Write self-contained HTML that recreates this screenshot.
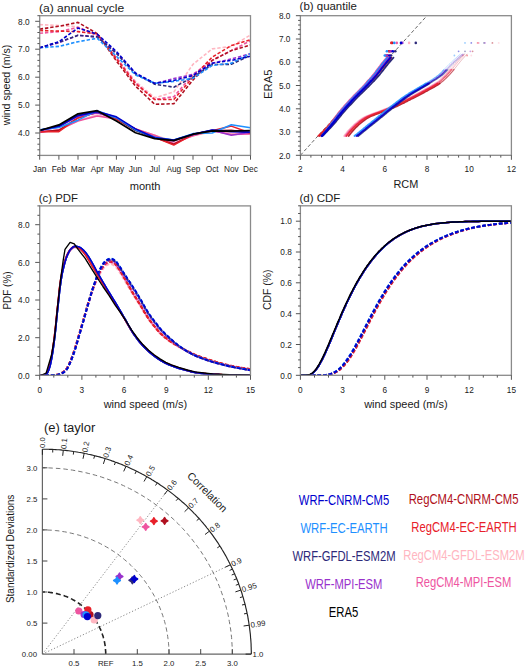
<!DOCTYPE html>
<html><head><meta charset="utf-8"><style>
html,body{margin:0;padding:0;background:#fff;}
svg{display:block;font-family:"Liberation Sans", sans-serif;}
</style></head><body>
<svg width="525" height="667" viewBox="0 0 525 667">
<defs>
<clipPath id="clipA"><rect x="39.7" y="15.7" width="210.8" height="139.7"/></clipPath>
<clipPath id="clipB"><rect x="300.4" y="15.7" width="211" height="139.6"/></clipPath>
<clipPath id="clipC"><rect x="39.7" y="205.9" width="210.8" height="169.4"/></clipPath>
<clipPath id="clipD"><rect x="300.4" y="205.8" width="211" height="169.5"/></clipPath>
</defs>
<rect width="525" height="667" fill="#fff"/>
<g clip-path="url(#clipA)">
<polyline points="39.7,24.6 58.9,25.5 78,26.9 97.2,35.3 116.4,57.6 135.5,81.4 154.7,97.8 173.8,92 193,64.3 212.2,48.9 231.3,46.4 250.5,35" fill="none" stroke="#ffb6c1" stroke-width="1.6" stroke-linejoin="round" stroke-dasharray="3.4 1.9" />
<polyline points="39.7,33.3 58.9,31.6 78,27.4 97.2,35.3 116.4,57.6 135.5,82.8 154.7,99.5 173.8,96.7 193,74.4 212.2,60.4 231.3,50.6 250.5,40.8" fill="none" stroke="#ee55a0" stroke-width="1.6" stroke-linejoin="round" stroke-dasharray="3.4 1.9" />
<polyline points="39.7,29.1 58.9,26.3 78,22.4 97.2,33.6 116.4,61 135.5,86.1 154.7,104.3 173.8,103.7 193,80 212.2,60.4 231.3,50.6 250.5,45" fill="none" stroke="#b01020" stroke-width="1.6" stroke-linejoin="round" stroke-dasharray="3.4 1.9" />
<polyline points="39.7,30.5 58.9,31.1 78,31.6 97.2,33.9 116.4,59 135.5,83.6 154.7,99.5 173.8,99.5 193,77.2 212.2,57.1 231.3,45.6 250.5,39.7" fill="none" stroke="#e8202a" stroke-width="1.6" stroke-linejoin="round" stroke-dasharray="3.4 1.9" />
<polyline points="39.7,47.8 58.9,42.8 78,35.3 97.2,36.9 116.4,52.6 135.5,73.8 154.7,83.6 173.8,78.6 193,74.4 212.2,63.2 231.3,59 250.5,53.7" fill="none" stroke="#9932cc" stroke-width="1.6" stroke-linejoin="round" stroke-dasharray="3.4 1.9" />
<polyline points="39.7,47.8 58.9,42.2 78,35.3 97.2,36.9 116.4,53.4 135.5,73.8 154.7,84.2 173.8,87.2 193,77.2 212.2,64.6 231.3,64.3 250.5,55.4" fill="none" stroke="#2e2a7a" stroke-width="1.6" stroke-linejoin="round" stroke-dasharray="3.4 1.9" />
<polyline points="39.7,47.8 58.9,46.4 78,41.7 97.2,38.3 116.4,56.2 135.5,74.9 154.7,83.3 173.8,81.4 193,78.3 212.2,65.4 231.3,63.2 250.5,53.4" fill="none" stroke="#1e90ff" stroke-width="1.6" stroke-linejoin="round" stroke-dasharray="3.4 1.9" />
<polyline points="39.7,47.8 58.9,41.7 78,28 97.2,34.1 116.4,51.5 135.5,73 154.7,83.3 173.8,80.5 193,75.5 212.2,63.2 231.3,60.4 250.5,56.2" fill="none" stroke="#0000cd" stroke-width="1.6" stroke-linejoin="round" stroke-dasharray="3.4 1.9" />
<polyline points="39.7,131.7 58.9,130.3 78,120.5 97.2,114.9 116.4,119.1 135.5,128.9 154.7,135.3 173.8,141.4 193,135.8 212.2,131.7 231.3,133 250.5,133.6" fill="none" stroke="#ffb6c1" stroke-width="1.5" stroke-linejoin="round" />
<polyline points="39.7,132.5 58.9,129.7 78,121 97.2,116 116.4,119.1 135.5,128.9 154.7,135.3 173.8,143.4 193,135.8 212.2,130.8 231.3,134.4 250.5,133.9" fill="none" stroke="#ee55a0" stroke-width="1.5" stroke-linejoin="round" />
<polyline points="39.7,131.7 58.9,130.3 78,117.7 97.2,112.4 116.4,119.1 135.5,130.3 154.7,137.2 173.8,144.2 193,134.4 212.2,130.8 231.3,130.3 250.5,133" fill="none" stroke="#b01020" stroke-width="1.5" stroke-linejoin="round" />
<polyline points="39.7,131.7 58.9,131.7 78,118 97.2,112.4 116.4,119.1 135.5,128.9 154.7,137.2 173.8,145.1 193,134.4 212.2,130.8 231.3,126.1 250.5,133" fill="none" stroke="#e8202a" stroke-width="1.5" stroke-linejoin="round" />
<polyline points="39.7,130.8 58.9,126.9 78,116.3 97.2,112.9 116.4,117.7 135.5,129.7 154.7,137.2 173.8,140.9 193,134.2 212.2,130.3 231.3,135.3 250.5,132.2" fill="none" stroke="#9932cc" stroke-width="1.5" stroke-linejoin="round" />
<polyline points="39.7,130.3 58.9,126.1 78,114.9 97.2,112.1 116.4,117.7 135.5,130.3 154.7,138.1 173.8,140.3 193,134.4 212.2,130.3 231.3,131.1 250.5,131.7" fill="none" stroke="#2e2a7a" stroke-width="1.5" stroke-linejoin="round" />
<polyline points="39.7,129.7 58.9,127.5 78,120.2 97.2,110.7 116.4,117.7 135.5,129.7 154.7,137.2 173.8,140 193,133.6 212.2,133 231.3,124.7 250.5,127.7" fill="none" stroke="#1e90ff" stroke-width="1.5" stroke-linejoin="round" />
<polyline points="39.7,130.3 58.9,126.3 78,115.7 97.2,111.5 116.4,116.8 135.5,128.9 154.7,137.8 173.8,140 193,134.2 212.2,130 231.3,131.7 250.5,132.2" fill="none" stroke="#0000cd" stroke-width="1.5" stroke-linejoin="round" />
<polyline points="39.7,130.5 58.9,124.9 78,113.8 97.2,110.7 116.4,121 135.5,132.8 154.7,138.6 173.8,140.6 193,134.2 212.2,130.8 231.3,131.1 250.5,130.5" fill="none" stroke="#000000" stroke-width="1.7" stroke-linejoin="round" />
</g>
<rect x="39.7" y="15.7" width="210.8" height="139.7" fill="none" stroke="#8a8a8a" stroke-width="1.3"/>
<line x1="37.4" y1="155.4" x2="39.7" y2="155.4" stroke="#555" stroke-width="1" />
<line x1="37.4" y1="149.8" x2="39.7" y2="149.8" stroke="#555" stroke-width="1" />
<line x1="37.4" y1="144.2" x2="39.7" y2="144.2" stroke="#555" stroke-width="1" />
<line x1="37.4" y1="138.6" x2="39.7" y2="138.6" stroke="#555" stroke-width="1" />
<line x1="35.2" y1="133" x2="39.7" y2="133" stroke="#555" stroke-width="1" />
<text transform="translate(29.6 136.2) scale(0.92 1)" font-size="9.0" text-anchor="end" fill="#1a1a1a" >4.0</text>
<line x1="37.4" y1="127.5" x2="39.7" y2="127.5" stroke="#555" stroke-width="1" />
<line x1="37.4" y1="121.9" x2="39.7" y2="121.9" stroke="#555" stroke-width="1" />
<line x1="37.4" y1="116.3" x2="39.7" y2="116.3" stroke="#555" stroke-width="1" />
<line x1="37.4" y1="110.7" x2="39.7" y2="110.7" stroke="#555" stroke-width="1" />
<line x1="35.2" y1="105.1" x2="39.7" y2="105.1" stroke="#555" stroke-width="1" />
<text transform="translate(29.6 108.3) scale(0.92 1)" font-size="9.0" text-anchor="end" fill="#1a1a1a" >5.0</text>
<line x1="37.4" y1="99.5" x2="39.7" y2="99.5" stroke="#555" stroke-width="1" />
<line x1="37.4" y1="93.9" x2="39.7" y2="93.9" stroke="#555" stroke-width="1" />
<line x1="37.4" y1="88.3" x2="39.7" y2="88.3" stroke="#555" stroke-width="1" />
<line x1="37.4" y1="82.8" x2="39.7" y2="82.8" stroke="#555" stroke-width="1" />
<line x1="35.2" y1="77.2" x2="39.7" y2="77.2" stroke="#555" stroke-width="1" />
<text transform="translate(29.6 80.4) scale(0.92 1)" font-size="9.0" text-anchor="end" fill="#1a1a1a" >6.0</text>
<line x1="37.4" y1="71.6" x2="39.7" y2="71.6" stroke="#555" stroke-width="1" />
<line x1="37.4" y1="66" x2="39.7" y2="66" stroke="#555" stroke-width="1" />
<line x1="37.4" y1="60.4" x2="39.7" y2="60.4" stroke="#555" stroke-width="1" />
<line x1="37.4" y1="54.8" x2="39.7" y2="54.8" stroke="#555" stroke-width="1" />
<line x1="35.2" y1="49.2" x2="39.7" y2="49.2" stroke="#555" stroke-width="1" />
<text transform="translate(29.6 52.4) scale(0.92 1)" font-size="9.0" text-anchor="end" fill="#1a1a1a" >7.0</text>
<line x1="37.4" y1="43.6" x2="39.7" y2="43.6" stroke="#555" stroke-width="1" />
<line x1="37.4" y1="38.1" x2="39.7" y2="38.1" stroke="#555" stroke-width="1" />
<line x1="37.4" y1="32.5" x2="39.7" y2="32.5" stroke="#555" stroke-width="1" />
<line x1="37.4" y1="26.9" x2="39.7" y2="26.9" stroke="#555" stroke-width="1" />
<line x1="35.2" y1="21.3" x2="39.7" y2="21.3" stroke="#555" stroke-width="1" />
<text transform="translate(29.6 24.5) scale(0.92 1)" font-size="9.0" text-anchor="end" fill="#1a1a1a" >8.0</text>
<line x1="37.4" y1="15.7" x2="39.7" y2="15.7" stroke="#555" stroke-width="1" />
<line x1="39.7" y1="155.4" x2="39.7" y2="159.7" stroke="#555" stroke-width="1" />
<text x="39.7" y="171.6" font-size="8.3" text-anchor="middle" fill="#1a1a1a" >Jan</text>
<line x1="58.9" y1="155.4" x2="58.9" y2="159.7" stroke="#555" stroke-width="1" />
<text x="58.9" y="171.6" font-size="8.3" text-anchor="middle" fill="#1a1a1a" >Feb</text>
<line x1="78" y1="155.4" x2="78" y2="159.7" stroke="#555" stroke-width="1" />
<text x="78" y="171.6" font-size="8.3" text-anchor="middle" fill="#1a1a1a" >Mar</text>
<line x1="97.2" y1="155.4" x2="97.2" y2="159.7" stroke="#555" stroke-width="1" />
<text x="97.2" y="171.6" font-size="8.3" text-anchor="middle" fill="#1a1a1a" >Apr</text>
<line x1="116.4" y1="155.4" x2="116.4" y2="159.7" stroke="#555" stroke-width="1" />
<text x="116.4" y="171.6" font-size="8.3" text-anchor="middle" fill="#1a1a1a" >May</text>
<line x1="135.5" y1="155.4" x2="135.5" y2="159.7" stroke="#555" stroke-width="1" />
<text x="135.5" y="171.6" font-size="8.3" text-anchor="middle" fill="#1a1a1a" >Jun</text>
<line x1="154.7" y1="155.4" x2="154.7" y2="159.7" stroke="#555" stroke-width="1" />
<text x="154.7" y="171.6" font-size="8.3" text-anchor="middle" fill="#1a1a1a" >Jul</text>
<line x1="173.8" y1="155.4" x2="173.8" y2="159.7" stroke="#555" stroke-width="1" />
<text x="173.8" y="171.6" font-size="8.3" text-anchor="middle" fill="#1a1a1a" >Aug</text>
<line x1="193" y1="155.4" x2="193" y2="159.7" stroke="#555" stroke-width="1" />
<text x="193" y="171.6" font-size="8.3" text-anchor="middle" fill="#1a1a1a" >Sep</text>
<line x1="212.2" y1="155.4" x2="212.2" y2="159.7" stroke="#555" stroke-width="1" />
<text x="212.2" y="171.6" font-size="8.3" text-anchor="middle" fill="#1a1a1a" >Oct</text>
<line x1="231.3" y1="155.4" x2="231.3" y2="159.7" stroke="#555" stroke-width="1" />
<text x="231.3" y="171.6" font-size="8.3" text-anchor="middle" fill="#1a1a1a" >Nov</text>
<line x1="250.5" y1="155.4" x2="250.5" y2="159.7" stroke="#555" stroke-width="1" />
<text x="250.5" y="171.6" font-size="8.3" text-anchor="middle" fill="#1a1a1a" >Dec</text>
<text x="38.9" y="12.4" font-size="11.8" text-anchor="start" fill="#1a1a1a" textLength="85.3" lengthAdjust="spacingAndGlyphs" >(a) annual cycle</text>
<text x="145.1" y="190" font-size="11.2" text-anchor="middle" fill="#1a1a1a" textLength="30.8" lengthAdjust="spacingAndGlyphs" >month</text>
<text x="9.7" y="85" font-size="11.2" text-anchor="middle" fill="#1a1a1a" transform="rotate(-90 9.7 85)" textLength="80.5" lengthAdjust="spacingAndGlyphs" >wind speed (m/s)</text>
<g clip-path="url(#clipB)">
<line x1="300.4" y1="155.3" x2="427" y2="15.7" stroke="#666" stroke-width="1" stroke-dasharray="3.5 2.2"/>
<polyline points="319.8,136 320.7,135 321.6,134 322.4,133 323.3,132 324.1,131 325,130 325.9,129 326.7,128 327.6,127 328.4,126 329.2,125 330.1,124 330.9,123 331.7,121.9 332.6,120.9 333.4,119.8 334.2,118.8 335,117.8 335.8,116.7 336.6,115.7 337.5,114.6 338.3,113.6 339.1,112.6 340,111.6 340.8,110.6 341.7,109.6 342.6,108.6 343.4,107.6 344.3,106.6 345.2,105.6 346,104.7 346.9,103.7 347.8,102.7 348.7,101.7 349.6,100.8 350.5,99.8 351.4,98.9 352.3,97.9 353.2,97 354.1,96 355,95.1 356,94.2 356.9,93.3 357.8,92.4 358.8,91.4 359.7,90.5 360.6,89.6 361.5,88.7 362.5,87.7 363.4,86.8 364.3,85.9 365.2,84.9 366.1,83.9 367,83 367.8,82 368.7,81.1" fill="none" stroke="#ffb6c1" stroke-width="1.6" stroke-linejoin="round" stroke-linecap="round"/>
<polyline points="368.7,81.1 369.6,80.1 370.5,79.1 371.4,78.1 372.2,77.1 373.1,76.1 373.9,75.1 374.8,74.1 375.6,73.1 376.4,72 377.2,71 378,69.9 378.8,68.9 379.6,67.8 380.4,66.8 381.3,65.7 382.1,64.7 382.9,63.7 383.7,62.6 384.6,61.6 385.4,60.6 386.3,59.6 387.1,58.6 388,57.6" fill="none" stroke="#ffb6c1" stroke-width="1.8" stroke-linejoin="round" stroke-linecap="round"/>
<polyline points="320.2,136 321.1,135 321.9,134 322.7,132.9 323.5,131.9 324.3,130.9 325.1,129.9 325.9,128.8 326.8,127.8 327.6,126.8 328.4,125.8 329.2,124.7 330,123.7 330.8,122.7 331.6,121.6 332.4,120.6 333.2,119.6 334,118.5 334.8,117.5 335.6,116.4 336.4,115.4 337.2,114.4 338,113.3 338.8,112.3 339.6,111.3 340.5,110.3 341.3,109.3 342.1,108.3 343,107.4 343.8,106.4 344.7,105.4 345.6,104.4 346.4,103.5 347.3,102.5 348.2,101.5 349,100.6 349.9,99.6 350.8,98.7 351.7,97.7 352.6,96.8 353.5,95.8 354.4,94.9 355.3,94 356.2,93.1 357.1,92.2 358,91.3 359,90.4 359.9,89.4 360.8,88.5 361.7,87.6 362.6,86.7 363.4,85.7 364.3,84.8 365.2,83.8 366.1,82.8 367,81.9 367.8,80.9" fill="none" stroke="#ee55a0" stroke-width="1.6" stroke-linejoin="round" stroke-linecap="round"/>
<polyline points="367,81.9 367.8,80.9 368.7,80 369.6,79 370.4,78 371.3,77 372.1,76 372.9,75 373.8,74 374.6,73 375.4,72 376.2,70.9 377,69.9 377.7,68.8 378.5,67.8 379.3,66.7 380.1,65.7 380.9,64.6 381.7,63.6 382.5,62.6 383.4,61.6 384.2,60.6 385,59.6 385.9,58.6 386.7,57.6" fill="none" stroke="#ee55a0" stroke-width="1.8" stroke-linejoin="round" stroke-linecap="round"/>
<polyline points="319.4,136 320.4,135.1 321.3,134.2 322.3,133.2 323.3,132.3 324.2,131.3 325.2,130.4 326.1,129.4 327.1,128.5 328,127.5 328.9,126.5 329.9,125.6 330.8,124.6 331.7,123.6 332.6,122.6 333.4,121.5 334.3,120.5 335.2,119.5 336,118.4 336.9,117.4 337.8,116.3 338.6,115.3 339.5,114.2 340.4,113.2 341.3,112.2 342.2,111.2 343.1,110.2 344,109.2 344.9,108.2 345.8,107.2 346.7,106.2 347.6,105.2 348.5,104.2 349.5,103.2 350.4,102.3 351.3,101.3 352.3,100.3 353.2,99.4 354.1,98.4 355.1,97.4 356,96.5 357,95.6 357.9,94.6 358.9,93.7 359.9,92.8 360.9,91.8 361.8,90.9 362.8,90 363.8,89.1 364.7,88.1 365.7,87.2 366.6,86.2 367.5,85.3 368.5,84.3 369.4,83.3 370.3,82.3 371.3,81.4" fill="none" stroke="#b01020" stroke-width="1.6" stroke-linejoin="round" stroke-linecap="round"/>
<polyline points="371.3,81.4 372.2,80.4 373.1,79.4 374,78.4 374.9,77.4 375.8,76.4 376.7,75.4 377.6,74.3 378.4,73.3 379.3,72.2 380.1,71.2 381,70.1 381.8,69 382.7,68 383.5,66.9 384.3,65.8 385.2,64.8 386.1,63.8 386.9,62.7 387.8,61.7 388.7,60.7 389.6,59.6 390.5,58.6 391.3,57.6" fill="none" stroke="#b01020" stroke-width="1.8" stroke-linejoin="round" stroke-linecap="round"/>
<polyline points="318.1,136 319.1,135.1 320.1,134.2 321,133.2 322,132.3 323,131.3 323.9,130.4 324.9,129.4 325.8,128.5 326.7,127.5 327.7,126.5 328.6,125.6 329.5,124.6 330.4,123.6 331.3,122.6 332.2,121.5 333.1,120.5 333.9,119.5 334.8,118.4 335.6,117.4 336.5,116.3 337.4,115.3 338.2,114.2 339.1,113.2 340,112.2 340.9,111.2 341.8,110.2 342.7,109.2 343.6,108.2 344.5,107.2 345.4,106.2 346.4,105.2 347.3,104.2 348.2,103.2 349.1,102.3 350.1,101.3 351,100.3 351.9,99.4 352.9,98.4 353.8,97.4 354.8,96.5 355.7,95.6 356.7,94.6 357.6,93.7 358.6,92.8 359.6,91.8 360.6,90.9 361.5,90 362.5,89.1 363.4,88.1 364.4,87.2 365.3,86.2 366.3,85.3 367.2,84.3 368.1,83.3 369.1,82.3 370,81.4" fill="none" stroke="#e8202a" stroke-width="1.6" stroke-linejoin="round" stroke-linecap="round"/>
<polyline points="370,81.4 370.9,80.4 371.8,79.4 372.7,78.4 373.7,77.4 374.5,76.4 375.4,75.4 376.3,74.3 377.2,73.3 378,72.2 378.9,71.2 379.7,70.1 380.6,69 381.4,68 382.2,66.9 383.1,65.8 383.9,64.8 384.8,63.8 385.7,62.7 386.5,61.7 387.4,60.7 388.3,59.6 389.2,58.6 390.1,57.6" fill="none" stroke="#e8202a" stroke-width="1.8" stroke-linejoin="round" stroke-linecap="round"/>
<polyline points="321.5,136 322.3,135 323.1,133.9 323.9,132.9 324.7,131.9 325.5,130.9 326.3,129.8 327.1,128.8 327.9,127.8 328.7,126.7 329.5,125.7 330.3,124.7 331.1,123.6 331.9,122.6 332.7,121.6 333.5,120.5 334.3,119.5 335.1,118.4 335.9,117.4 336.6,116.4 337.4,115.3 338.2,114.3 339,113.3 339.9,112.3 340.7,111.3 341.5,110.3 342.4,109.3 343.2,108.3 344,107.3 344.9,106.3 345.7,105.3 346.6,104.4 347.5,103.4 348.3,102.4 349.2,101.5 350.1,100.5 350.9,99.6 351.8,98.6 352.7,97.7 353.6,96.7 354.5,95.8 355.4,94.9 356.3,94 357.2,93 358.1,92.1 359,91.2 359.9,90.3 360.8,89.4 361.7,88.5 362.6,87.5 363.5,86.6 364.4,85.7 365.3,84.7 366.2,83.8 367,82.8 367.9,81.9 368.8,80.9" fill="none" stroke="#1e90ff" stroke-width="1.6" stroke-linejoin="round" stroke-linecap="round"/>
<polyline points="367.9,81.9 368.8,80.9 369.6,79.9 370.5,79 371.3,78 372.2,77 373,76 373.9,75 374.7,74 375.5,73 376.3,71.9 377.1,70.9 377.8,69.8 378.6,68.8 379.4,67.7 380.2,66.7 381,65.7 381.8,64.6 382.6,63.6 383.4,62.6 384.2,61.6 385.1,60.6 385.9,59.6 386.7,58.6 387.5,57.6" fill="none" stroke="#1e90ff" stroke-width="1.8" stroke-linejoin="round" stroke-linecap="round"/>
<polyline points="321.7,136 322.6,135 323.4,134 324.3,133 325.1,132 325.9,131 326.8,130 327.6,129 328.5,128 329.3,126.9 330.1,125.9 331,124.9 331.8,123.9 332.6,122.9 333.4,121.8 334.2,120.8 335,119.7 335.9,118.7 336.7,117.6 337.5,116.6 338.3,115.6 339.1,114.5 339.9,113.5 340.7,112.5 341.6,111.5 342.4,110.5 343.3,109.5 344.1,108.5 345,107.5 345.9,106.5 346.7,105.5 347.6,104.6 348.5,103.6 349.4,102.6 350.2,101.7 351.1,100.7 352,99.7 352.9,98.8 353.8,97.8 354.7,96.9 355.6,96 356.5,95 357.4,94.1 358.4,93.2 359.3,92.3 360.2,91.4 361.2,90.5 362.1,89.5 363,88.6 363.9,87.7 364.8,86.7 365.7,85.8 366.6,84.8 367.5,83.9 368.4,82.9 369.3,82 370.1,81" fill="none" stroke="#9932cc" stroke-width="1.6" stroke-linejoin="round" stroke-linecap="round"/>
<polyline points="369.3,82 370.1,81 371,80 371.9,79.1 372.8,78.1 373.6,77.1 374.5,76.1 375.3,75.1 376.1,74.1 377,73 377.8,72 378.6,71 379.4,69.9 380.2,68.9 381,67.8 381.8,66.8 382.6,65.7 383.4,64.7 384.2,63.6 385,62.6 385.9,61.6 386.7,60.6 387.5,59.6 388.4,58.6 389.2,57.6" fill="none" stroke="#9932cc" stroke-width="1.8" stroke-linejoin="round" stroke-linecap="round"/>
<polyline points="322.6,136 323.5,135.1 324.5,134.1 325.4,133.2 326.3,132.2 327.3,131.3 328.2,130.3 329.1,129.3 330,128.4 330.9,127.4 331.8,126.4 332.7,125.4 333.6,124.4 334.5,123.4 335.4,122.4 336.3,121.4 337.1,120.3 338,119.3 338.8,118.2 339.7,117.2 340.5,116.1 341.4,115.1 342.2,114.1 343.1,113 344,112 344.9,111 345.7,110 346.6,109 347.5,108 348.4,107 349.3,106 350.2,105.1 351.2,104.1 352.1,103.1 353,102.1 353.9,101.2 354.8,100.2 355.7,99.2 356.7,98.3 357.6,97.3 358.5,96.4 359.5,95.4 360.4,94.5 361.4,93.6 362.4,92.7 363.3,91.7 364.3,90.8 365.2,89.9 366.2,89 367.1,88 368.1,87.1 369,86.1 369.9,85.2 370.9,84.2 371.8,83.2 372.7,82.3 373.6,81.3" fill="none" stroke="#2e2a7a" stroke-width="1.6" stroke-linejoin="round" stroke-linecap="round"/>
<polyline points="373.6,81.3 374.5,80.3 375.4,79.3 376.3,78.3 377.2,77.3 378.1,76.3 379,75.3 379.9,74.3 380.7,73.2 381.5,72.2 382.4,71.1 383.2,70.1 384,69 384.9,67.9 385.7,66.9 386.5,65.8 387.4,64.8 388.2,63.7 389.1,62.7 390,61.7 390.8,60.6 391.7,59.6 392.6,58.6 393.5,57.6" fill="none" stroke="#2e2a7a" stroke-width="1.8" stroke-linejoin="round" stroke-linecap="round"/>
<polyline points="321.9,136 322.8,135 323.7,134 324.6,133 325.4,132.1 326.3,131.1 327.2,130.1 328,129.1 328.9,128.1 329.8,127.1 330.6,126.1 331.5,125.1 332.3,124 333.2,123 334,122 334.8,121 335.6,119.9 336.5,118.9 337.3,117.8 338.1,116.8 338.9,115.7 339.8,114.7 340.6,113.7 341.4,112.7 342.3,111.7 343.1,110.7 344,109.7 344.9,108.7 345.7,107.7 346.6,106.7 347.5,105.7 348.4,104.7 349.3,103.7 350.2,102.8 351.1,101.8 351.9,100.8 352.8,99.9 353.7,98.9 354.6,98 355.6,97 356.5,96.1 357.4,95.2 358.3,94.2 359.3,93.3 360.2,92.4 361.1,91.5 362.1,90.6 363,89.6 363.9,88.7 364.9,87.8 365.8,86.8 366.7,85.9 367.6,84.9 368.5,84 369.4,83 370.3,82.1 371.2,81.1" fill="none" stroke="#0000cd" stroke-width="2.3" stroke-linejoin="round" stroke-linecap="round"/>
<polyline points="371.2,81.1 372.1,80.1 372.9,79.1 373.8,78.1 374.7,77.2 375.6,76.2 376.4,75.2 377.3,74.1 378.1,73.1 378.9,72.1 379.7,71 380.5,70 381.3,68.9 382.1,67.8 382.9,66.8 383.8,65.7 384.6,64.7 385.4,63.7 386.3,62.6 387.1,61.6 387.9,60.6 388.8,59.6 389.6,58.6 390.5,57.6" fill="none" stroke="#0000cd" stroke-width="1.8" stroke-linejoin="round" stroke-linecap="round"/>
<circle cx="409.1" cy="42.9" r="1.3" fill="#ffb6c1"/>
<circle cx="394.3" cy="51.3" r="1.3" fill="#ffb6c1"/>
<circle cx="390.7" cy="55.5" r="1.3" fill="#ffb6c1"/>
<circle cx="396.8" cy="42.9" r="1.3" fill="#ee55a0"/>
<circle cx="391.1" cy="51.3" r="1.3" fill="#ee55a0"/>
<circle cx="388" cy="55.5" r="1.3" fill="#ee55a0"/>
<circle cx="392.2" cy="42.9" r="1.3" fill="#b01020"/>
<circle cx="389" cy="51.3" r="1.3" fill="#b01020"/>
<circle cx="387.3" cy="55.5" r="1.3" fill="#b01020"/>
<circle cx="391.3" cy="42.9" r="1.3" fill="#e8202a"/>
<circle cx="389.4" cy="51.3" r="1.3" fill="#e8202a"/>
<circle cx="385.9" cy="55.5" r="1.3" fill="#e8202a"/>
<circle cx="402.3" cy="42.9" r="1.3" fill="#9932cc"/>
<circle cx="390.7" cy="51.3" r="1.3" fill="#9932cc"/>
<circle cx="386.9" cy="55.5" r="1.3" fill="#9932cc"/>
<circle cx="415.8" cy="42.9" r="1.3" fill="#2e2a7a"/>
<circle cx="395.3" cy="51.3" r="1.3" fill="#2e2a7a"/>
<circle cx="391.1" cy="55.5" r="1.3" fill="#2e2a7a"/>
<circle cx="394.3" cy="42.9" r="1.3" fill="#1e90ff"/>
<circle cx="386.9" cy="51.3" r="1.3" fill="#1e90ff"/>
<circle cx="384.8" cy="55.5" r="1.3" fill="#1e90ff"/>
<circle cx="401" cy="42.9" r="1.3" fill="#0000cd"/>
<circle cx="392.8" cy="51.3" r="1.3" fill="#0000cd"/>
<circle cx="389.4" cy="55.5" r="1.3" fill="#0000cd"/>
<polyline points="344.1,136 345.1,134.6 346.2,133.3 347.2,131.9 348.3,130.6 349.5,129.4 350.6,128.2 351.8,127 353,125.9 354.2,124.7 355.4,123.6 356.7,122.6 358,121.5 359.3,120.5 360.7,119.5 362,118.6 363.4,117.8 364.8,117 366.3,116.3 367.7,115.7 369.2,115.1 370.8,114.5 372.3,113.9 373.8,113.4 375.3,112.8 376.9,112.2 378.4,111.7 379.9,111.1 381.4,110.5 382.9,110 384.4,109.4 385.9,108.8 387.4,108.2 388.9,107.6 390.4,107 391.9,106.4 393.4,105.7 394.9,105 396.3,104.3 397.8,103.6 399.2,102.9 400.7,102.1 402.1,101.4 403.6,100.6 405,99.9 406.5,99.1 407.9,98.4 409.4,97.7 410.8,96.9 412.3,96.2 413.7,95.4 415.2,94.7 416.6,94 418,93.2 419.5,92.4 420.9,91.6 422.3,90.9 423.8,90.1 425.2,89.3 426.6,88.5 428.1,87.7 429.5,86.9 431,86.1 432.4,85.2 433.7,84.4 435.1,83.5" fill="none" stroke="#ffb6c1" stroke-width="1.7" stroke-linejoin="round" stroke-linecap="round" opacity="0.9"/>
<polyline points="435.1,83.5 436.4,82.5 437.7,81.6 439,80.5 440.2,79.4 441.4,78.2 442.6,77 443.8,75.8 444.9,74.6 446.1,73.3 447.2,72.1 448.3,70.8 449.4,69.5" fill="none" stroke="#ffb6c1" stroke-width="1.2" stroke-linejoin="round" stroke-linecap="round" opacity="0.65"/>
<polyline points="449.4,69.5 450.4,68.2 451.5,66.9 452.5,65.5 453.6,64.2 454.6,62.9 455.7,61.6 456.8,60.3 457.9,59 459,57.8 460.2,56.5 461.3,55.3 462.4,54.1" fill="none" stroke="#ffb6c1" stroke-width="0.8" stroke-linejoin="round" stroke-linecap="round" opacity="0.35"/>
<circle cx="471.3" cy="55.5" r="0.9" fill="#ffb6c1" opacity="0.45"/>
<circle cx="498.7" cy="42.9" r="0.9" fill="#ffb6c1" opacity="0.45"/>
<polyline points="345.3,136 346.4,134.6 347.4,133.3 348.5,131.9 349.6,130.6 350.7,129.4 351.9,128.2 353,127 354.2,125.9 355.4,124.7 356.7,123.6 358,122.6 359.3,121.5 360.6,120.5 361.9,119.5 363.3,118.6 364.7,117.8 366.1,117 367.5,116.3 369,115.7 370.5,115.1 372,114.5 373.6,113.9 375.1,113.4 376.6,112.8 378.1,112.2 379.6,111.7 381.1,111.1 382.7,110.5 384.2,110 385.7,109.4 387.2,108.8 388.7,108.2 390.2,107.6 391.7,107 393.2,106.4 394.7,105.7 396.1,105 397.6,104.3 399,103.6 400.5,102.9 401.9,102.1 403.4,101.4 404.8,100.6 406.3,99.9 407.7,99.1 409.2,98.4 410.6,97.7 412.1,96.9 413.5,96.2 415,95.4 416.4,94.7 417.9,94 419.3,93.2 420.7,92.4 422.2,91.6 423.6,90.9 425,90.1 426.5,89.3 427.9,88.5 429.4,87.7 430.8,86.9 432.2,86.1 433.6,85.2 435,84.4 436.4,83.5" fill="none" stroke="#ee55a0" stroke-width="1.7" stroke-linejoin="round" stroke-linecap="round" opacity="0.9"/>
<polyline points="436.4,83.5 437.7,82.5 439,81.6 440.2,80.5 441.5,79.4 442.7,78.2 443.9,77 445,75.8 446.2,74.6 447.3,73.3 448.5,72.1 449.6,70.8 450.7,69.5" fill="none" stroke="#ee55a0" stroke-width="1.2" stroke-linejoin="round" stroke-linecap="round" opacity="0.65"/>
<polyline points="450.7,69.5 451.7,68.2 452.8,66.9 453.8,65.5 454.8,64.2 455.9,62.9 457,61.6 458.1,60.3 459.2,59 460.3,57.8 461.4,56.5 462.6,55.3 463.7,54.1" fill="none" stroke="#ee55a0" stroke-width="0.8" stroke-linejoin="round" stroke-linecap="round" opacity="0.35"/>
<circle cx="462.9" cy="55.5" r="0.9" fill="#ee55a0" opacity="0.45"/>
<circle cx="478.7" cy="42.9" r="0.9" fill="#ee55a0" opacity="0.45"/>
<polyline points="348.7,136 349.7,134.6 350.8,133.3 351.9,131.9 353,130.6 354.1,129.4 355.2,128.2 356.4,127 357.6,125.9 358.8,124.7 360.1,123.6 361.3,122.6 362.6,121.5 364,120.5 365.3,119.5 366.7,118.6 368.1,117.8 369.5,117 370.9,116.3 372.4,115.7 373.9,115.1 375.4,114.5 376.9,113.9 378.5,113.4 380,112.8 381.5,112.2 383,111.7 384.5,111.1 386,110.5 387.6,110 389.1,109.4 390.6,108.8 392.1,108.2 393.6,107.6 395.1,107 396.6,106.4 398,105.7 399.5,105 401,104.3 402.4,103.6 403.9,102.9 405.3,102.1 406.8,101.4 408.2,100.6 409.7,99.9 411.1,99.1 412.6,98.4 414,97.7 415.5,96.9 416.9,96.2 418.4,95.4 419.8,94.7 421.2,94 422.7,93.2 424.1,92.4 425.6,91.6 427,90.9 428.4,90.1 429.8,89.3 431.3,88.5 432.7,87.7 434.2,86.9 435.6,86.1 437,85.2 438.4,84.4 439.7,83.5" fill="none" stroke="#b01020" stroke-width="1.7" stroke-linejoin="round" stroke-linecap="round" opacity="0.9"/>
<polyline points="439.7,83.5 441.1,82.5 442.4,81.6 443.6,80.5 444.8,79.4 446.1,78.2 447.2,77 448.4,75.8 449.6,74.6 450.7,73.3 451.8,72.1 452.9,70.8 454,69.5" fill="none" stroke="#b01020" stroke-width="1.2" stroke-linejoin="round" stroke-linecap="round" opacity="0.65"/>
<polyline points="454,69.5 455.1,68.2 456.1,66.9 457.2,65.5 458.2,64.2 459.3,62.9 460.3,61.6 461.4,60.3 462.5,59 463.7,57.8 464.8,56.5 465.9,55.3 467.1,54.1" fill="none" stroke="#b01020" stroke-width="0.8" stroke-linejoin="round" stroke-linecap="round" opacity="0.35"/>
<circle cx="472.6" cy="51.3" r="0.9" fill="#b01020" opacity="0.45"/>
<circle cx="492.4" cy="42.9" r="0.9" fill="#b01020" opacity="0.45"/>
<polyline points="346.6,136 347.6,134.6 348.7,133.3 349.8,131.9 350.9,130.6 352,129.4 353.1,128.2 354.3,127 355.5,125.9 356.7,124.7 357.9,123.6 359.2,122.6 360.5,121.5 361.8,120.5 363.2,119.5 364.6,118.6 366,117.8 367.4,117 368.8,116.3 370.3,115.7 371.8,115.1 373.3,114.5 374.8,113.9 376.4,113.4 377.9,112.8 379.4,112.2 380.9,111.7 382.4,111.1 383.9,110.5 385.4,110 387,109.4 388.5,108.8 390,108.2 391.5,107.6 393,107 394.4,106.4 395.9,105.7 397.4,105 398.8,104.3 400.3,103.6 401.8,102.9 403.2,102.1 404.7,101.4 406.1,100.6 407.5,99.9 409,99.1 410.4,98.4 411.9,97.7 413.4,96.9 414.8,96.2 416.2,95.4 417.7,94.7 419.1,94 420.6,93.2 422,92.4 423.4,91.6 424.9,90.9 426.3,90.1 427.7,89.3 429.2,88.5 430.6,87.7 432.1,86.9 433.5,86.1 434.9,85.2 436.3,84.4 437.6,83.5" fill="none" stroke="#e8202a" stroke-width="1.7" stroke-linejoin="round" stroke-linecap="round" opacity="0.9"/>
<polyline points="437.6,83.5 439,82.5 440.2,81.6 441.5,80.5 442.7,79.4 443.9,78.2 445.1,77 446.3,75.8 447.5,74.6 448.6,73.3 449.7,72.1 450.8,70.8 451.9,69.5" fill="none" stroke="#e8202a" stroke-width="1.2" stroke-linejoin="round" stroke-linecap="round" opacity="0.65"/>
<polyline points="451.9,69.5 453,68.2 454,66.9 455.1,65.5 456.1,64.2 457.2,62.9 458.2,61.6 459.3,60.3 460.4,59 461.6,57.8 462.7,56.5 463.8,55.3 465,54.1" fill="none" stroke="#e8202a" stroke-width="0.8" stroke-linejoin="round" stroke-linecap="round" opacity="0.35"/>
<circle cx="467.1" cy="55.5" r="0.9" fill="#e8202a" opacity="0.45"/>
<circle cx="477.6" cy="42.9" r="0.9" fill="#e8202a" opacity="0.45"/>
<polyline points="356.1,136 357.3,135 358.4,134.1 359.6,133.1 360.8,132.2 362,131.2 363.1,130.3 364.3,129.3 365.5,128.3 366.7,127.4 367.8,126.4 369,125.5 370.2,124.5 371.4,123.6 372.5,122.7 373.7,121.7 374.9,120.8 376.1,119.8 377.3,118.9 378.4,117.9 379.6,117 380.8,116 382,115.1 383.1,114.1 384.3,113.2 385.5,112.2 386.6,111.2 387.8,110.3 389,109.3 390.2,108.4 391.4,107.5 392.6,106.5 393.8,105.6 394.9,104.7 396.1,103.8 397.3,102.9 398.5,101.9 399.7,101 400.9,100.1 402.2,99.2 403.4,98.3 404.6,97.4 405.8,96.6 407.1,95.7 408.3,94.9 409.5,94.1 410.8,93.3 412.1,92.5 413.4,91.8 414.7,91 415.9,90.3 417.2,89.5 418.5,88.8 419.8,88 421.1,87.3 422.4,86.5 423.7,85.7 425,85 426.2,84.2 427.5,83.4" fill="none" stroke="#9932cc" stroke-width="1.7" stroke-linejoin="round" stroke-linecap="round" opacity="0.9"/>
<polyline points="426.2,84.2 427.5,83.4 428.8,82.6 430.1,81.9 431.4,81.1 432.7,80.3 433.9,79.5 435.2,78.7 436.4,77.8 437.7,77 438.9,76.1 440,75.2 441.2,74.2 442.3,73.2 443.4,72.1 444.4,71 445.5,69.9" fill="none" stroke="#9932cc" stroke-width="1.2" stroke-linejoin="round" stroke-linecap="round" opacity="0.65"/>
<polyline points="445.5,69.9 446.5,68.7 447.6,67.6 448.6,66.5 449.7,65.4 450.8,64.3 451.9,63.3 453,62.2 454.1,61.2 455.2,60.1 456.3,59.1 457.5,58.1 458.6,57.1 459.7,56.1 460.9,55.1 462,54.1" fill="none" stroke="#9932cc" stroke-width="0.8" stroke-linejoin="round" stroke-linecap="round" opacity="0.35"/>
<circle cx="470.3" cy="51.3" r="0.9" fill="#9932cc" opacity="0.45"/>
<circle cx="485" cy="42.9" r="0.9" fill="#9932cc" opacity="0.45"/>
<polyline points="358.2,136 359.4,135 360.6,134.1 361.7,133.1 362.9,132.2 364.1,131.2 365.2,130.3 366.4,129.3 367.6,128.3 368.8,127.4 369.9,126.4 371.1,125.5 372.3,124.5 373.5,123.6 374.7,122.7 375.8,121.7 377,120.8 378.2,119.8 379.4,118.9 380.5,117.9 381.7,117 382.9,116 384.1,115.1 385.2,114.1 386.4,113.2 387.6,112.2 388.8,111.2 389.9,110.3 391.1,109.3 392.3,108.4 393.5,107.5 394.7,106.5 395.9,105.6 397.1,104.7 398.3,103.8 399.4,102.9 400.6,101.9 401.8,101 403.1,100.1 404.3,99.2 405.5,98.3 406.7,97.4 407.9,96.6 409.2,95.7 410.4,94.9 411.7,94.1 412.9,93.3 414.2,92.5 415.5,91.8 416.8,91 418.1,90.3 419.4,89.5 420.6,88.8 421.9,88 423.2,87.3 424.5,86.5 425.8,85.7 427.1,85 428.3,84.2 429.6,83.4" fill="none" stroke="#2e2a7a" stroke-width="1.7" stroke-linejoin="round" stroke-linecap="round" opacity="0.9"/>
<polyline points="428.3,84.2 429.6,83.4 430.9,82.6 432.2,81.9 433.5,81.1 434.8,80.3 436.1,79.5 437.3,78.7 438.6,77.8 439.8,77 441,76.1 442.2,75.2 443.3,74.2 444.4,73.2 445.5,72.1 446.5,71 447.6,69.9" fill="none" stroke="#2e2a7a" stroke-width="1.2" stroke-linejoin="round" stroke-linecap="round" opacity="0.65"/>
<polyline points="447.6,69.9 448.6,68.7 449.7,67.6 450.7,66.5 451.8,65.4 452.9,64.3 454,63.3 455.1,62.2 456.2,61.2 457.3,60.1 458.5,59.1 459.6,58.1 460.7,57.1 461.8,56.1 463,55.1 464.1,54.1" fill="none" stroke="#2e2a7a" stroke-width="0.8" stroke-linejoin="round" stroke-linecap="round" opacity="0.35"/>
<circle cx="465" cy="51.3" r="0.9" fill="#2e2a7a" opacity="0.45"/>
<circle cx="484" cy="42.9" r="0.9" fill="#2e2a7a" opacity="0.45"/>
<polyline points="354.4,136 355.6,135 356.8,134.1 357.9,133.1 359.1,132.2 360.3,131.2 361.4,130.3 362.6,129.3 363.8,128.3 365,127.4 366.1,126.4 367.3,125.5 368.5,124.5 369.7,123.6 370.9,122.7 372,121.7 373.2,120.8 374.4,119.8 375.6,118.9 376.7,117.9 377.9,117 379.1,116 380.3,115.1 381.4,114.1 382.6,113.2 383.8,112.2 385,111.2 386.1,110.3 387.3,109.3 388.5,108.4 389.7,107.5 390.9,106.5 392.1,105.6 393.3,104.7 394.5,103.8 395.6,102.9 396.8,101.9 398.1,101 399.3,100.1 400.5,99.2 401.7,98.3 402.9,97.4 404.1,96.6 405.4,95.7 406.6,94.9 407.9,94.1 409.1,93.3 410.4,92.5 411.7,91.8 413,91 414.3,90.3 415.6,89.5 416.9,88.8 418.1,88 419.4,87.3 420.7,86.5 422,85.7 423.3,85 424.6,84.2 425.8,83.4" fill="none" stroke="#1e90ff" stroke-width="1.7" stroke-linejoin="round" stroke-linecap="round" opacity="0.9"/>
<polyline points="424.6,84.2 425.8,83.4 427.1,82.6 428.4,81.9 429.7,81.1 431,80.3 432.3,79.5 433.5,78.7 434.8,77.8 436,77 437.2,76.1 438.4,75.2 439.5,74.2 440.6,73.2 441.7,72.1 442.7,71 443.8,69.9" fill="none" stroke="#1e90ff" stroke-width="1.2" stroke-linejoin="round" stroke-linecap="round" opacity="0.65"/>
<polyline points="443.8,69.9 444.8,68.7 445.9,67.6 446.9,66.5 448,65.4 449.1,64.3 450.2,63.3 451.3,62.2 452.4,61.2 453.5,60.1 454.7,59.1 455.8,58.1 456.9,57.1 458,56.1 459.2,55.1 460.3,54.1" fill="none" stroke="#1e90ff" stroke-width="0.8" stroke-linejoin="round" stroke-linecap="round" opacity="0.35"/>
<circle cx="454.4" cy="55.5" r="0.9" fill="#1e90ff" opacity="0.45"/>
<circle cx="465" cy="42.9" r="0.9" fill="#1e90ff" opacity="0.45"/>
<polyline points="356.9,136 358.1,135 359.3,134.1 360.5,133.1 361.6,132.2 362.8,131.2 364,130.3 365.2,129.3 366.3,128.3 367.5,127.4 368.7,126.4 369.9,125.5 371,124.5 372.2,123.6 373.4,122.7 374.6,121.7 375.7,120.8 376.9,119.8 378.1,118.9 379.3,117.9 380.5,117 381.6,116 382.8,115.1 384,114.1 385.1,113.2 386.3,112.2 387.5,111.2 388.7,110.3 389.8,109.3 391,108.4 392.2,107.5 393.4,106.5 394.6,105.6 395.8,104.7 397,103.8 398.2,102.9 399.4,101.9 400.6,101 401.8,100.1 403,99.2 404.2,98.3 405.4,97.4 406.7,96.6 407.9,95.7 409.1,94.9 410.4,94.1 411.7,93.3 412.9,92.5 414.2,91.8 415.5,91 416.8,90.3 418.1,89.5 419.4,88.8 420.7,88 422,87.3 423.3,86.5 424.5,85.7 425.8,85 427.1,84.2 428.4,83.4" fill="none" stroke="#0000cd" stroke-width="1.7" stroke-linejoin="round" stroke-linecap="round" opacity="0.9"/>
<polyline points="427.1,84.2 428.4,83.4 429.7,82.6 430.9,81.9 432.2,81.1 433.5,80.3 434.8,79.5 436.1,78.7 437.3,77.8 438.5,77 439.7,76.1 440.9,75.2 442,74.2 443.1,73.2 444.2,72.1 445.3,71 446.3,69.9" fill="none" stroke="#0000cd" stroke-width="1.2" stroke-linejoin="round" stroke-linecap="round" opacity="0.65"/>
<polyline points="446.3,69.9 447.4,68.7 448.4,67.6 449.5,66.5 450.5,65.4 451.6,64.3 452.7,63.3 453.8,62.2 455,61.2 456.1,60.1 457.2,59.1 458.3,58.1 459.4,57.1 460.6,56.1 461.7,55.1 462.9,54.1" fill="none" stroke="#0000cd" stroke-width="0.8" stroke-linejoin="round" stroke-linecap="round" opacity="0.35"/>
<circle cx="458.6" cy="51.3" r="0.9" fill="#0000cd" opacity="0.45"/>
<circle cx="471.3" cy="42.9" r="0.9" fill="#0000cd" opacity="0.45"/>
</g>
<rect x="300.4" y="15.7" width="211" height="139.6" fill="none" stroke="#8a8a8a" stroke-width="1.3"/>
<line x1="295.9" y1="155.3" x2="300.4" y2="155.3" stroke="#555" stroke-width="1" />
<text transform="translate(290.4 158.5) scale(0.92 1)" font-size="9.0" text-anchor="end" fill="#1a1a1a" >2.0</text>
<line x1="298.1" y1="150.6" x2="300.4" y2="150.6" stroke="#555" stroke-width="1" />
<line x1="298.1" y1="146" x2="300.4" y2="146" stroke="#555" stroke-width="1" />
<line x1="298.1" y1="141.3" x2="300.4" y2="141.3" stroke="#555" stroke-width="1" />
<line x1="298.1" y1="136.7" x2="300.4" y2="136.7" stroke="#555" stroke-width="1" />
<line x1="295.9" y1="132" x2="300.4" y2="132" stroke="#555" stroke-width="1" />
<text transform="translate(290.4 135.2) scale(0.92 1)" font-size="9.0" text-anchor="end" fill="#1a1a1a" >3.0</text>
<line x1="298.1" y1="127.4" x2="300.4" y2="127.4" stroke="#555" stroke-width="1" />
<line x1="298.1" y1="122.7" x2="300.4" y2="122.7" stroke="#555" stroke-width="1" />
<line x1="298.1" y1="118.1" x2="300.4" y2="118.1" stroke="#555" stroke-width="1" />
<line x1="298.1" y1="113.4" x2="300.4" y2="113.4" stroke="#555" stroke-width="1" />
<line x1="295.9" y1="108.8" x2="300.4" y2="108.8" stroke="#555" stroke-width="1" />
<text transform="translate(290.4 112) scale(0.92 1)" font-size="9.0" text-anchor="end" fill="#1a1a1a" >4.0</text>
<line x1="298.1" y1="104.1" x2="300.4" y2="104.1" stroke="#555" stroke-width="1" />
<line x1="298.1" y1="99.5" x2="300.4" y2="99.5" stroke="#555" stroke-width="1" />
<line x1="298.1" y1="94.8" x2="300.4" y2="94.8" stroke="#555" stroke-width="1" />
<line x1="298.1" y1="90.2" x2="300.4" y2="90.2" stroke="#555" stroke-width="1" />
<line x1="295.9" y1="85.5" x2="300.4" y2="85.5" stroke="#555" stroke-width="1" />
<text transform="translate(290.4 88.7) scale(0.92 1)" font-size="9.0" text-anchor="end" fill="#1a1a1a" >5.0</text>
<line x1="298.1" y1="80.8" x2="300.4" y2="80.8" stroke="#555" stroke-width="1" />
<line x1="298.1" y1="76.2" x2="300.4" y2="76.2" stroke="#555" stroke-width="1" />
<line x1="298.1" y1="71.5" x2="300.4" y2="71.5" stroke="#555" stroke-width="1" />
<line x1="298.1" y1="66.9" x2="300.4" y2="66.9" stroke="#555" stroke-width="1" />
<line x1="295.9" y1="62.2" x2="300.4" y2="62.2" stroke="#555" stroke-width="1" />
<text transform="translate(290.4 65.4) scale(0.92 1)" font-size="9.0" text-anchor="end" fill="#1a1a1a" >6.0</text>
<line x1="298.1" y1="57.6" x2="300.4" y2="57.6" stroke="#555" stroke-width="1" />
<line x1="298.1" y1="52.9" x2="300.4" y2="52.9" stroke="#555" stroke-width="1" />
<line x1="298.1" y1="48.3" x2="300.4" y2="48.3" stroke="#555" stroke-width="1" />
<line x1="298.1" y1="43.6" x2="300.4" y2="43.6" stroke="#555" stroke-width="1" />
<line x1="295.9" y1="39" x2="300.4" y2="39" stroke="#555" stroke-width="1" />
<text transform="translate(290.4 42.2) scale(0.92 1)" font-size="9.0" text-anchor="end" fill="#1a1a1a" >7.0</text>
<line x1="298.1" y1="34.3" x2="300.4" y2="34.3" stroke="#555" stroke-width="1" />
<line x1="298.1" y1="29.7" x2="300.4" y2="29.7" stroke="#555" stroke-width="1" />
<line x1="298.1" y1="25" x2="300.4" y2="25" stroke="#555" stroke-width="1" />
<line x1="298.1" y1="20.4" x2="300.4" y2="20.4" stroke="#555" stroke-width="1" />
<line x1="295.9" y1="15.7" x2="300.4" y2="15.7" stroke="#555" stroke-width="1" />
<text transform="translate(290.4 18.9) scale(0.92 1)" font-size="9.0" text-anchor="end" fill="#1a1a1a" >8.0</text>
<line x1="300.4" y1="155.3" x2="300.4" y2="159.8" stroke="#555" stroke-width="1" />
<text transform="translate(300.4 171.9) scale(0.92 1)" font-size="9.0" text-anchor="middle" fill="#1a1a1a" >2</text>
<line x1="310.9" y1="155.3" x2="310.9" y2="157.6" stroke="#555" stroke-width="1" />
<line x1="321.5" y1="155.3" x2="321.5" y2="157.6" stroke="#555" stroke-width="1" />
<line x1="332" y1="155.3" x2="332" y2="157.6" stroke="#555" stroke-width="1" />
<line x1="342.6" y1="155.3" x2="342.6" y2="159.8" stroke="#555" stroke-width="1" />
<text transform="translate(342.6 171.9) scale(0.92 1)" font-size="9.0" text-anchor="middle" fill="#1a1a1a" >4</text>
<line x1="353.1" y1="155.3" x2="353.1" y2="157.6" stroke="#555" stroke-width="1" />
<line x1="363.7" y1="155.3" x2="363.7" y2="157.6" stroke="#555" stroke-width="1" />
<line x1="374.2" y1="155.3" x2="374.2" y2="157.6" stroke="#555" stroke-width="1" />
<line x1="384.8" y1="155.3" x2="384.8" y2="159.8" stroke="#555" stroke-width="1" />
<text transform="translate(384.8 171.9) scale(0.92 1)" font-size="9.0" text-anchor="middle" fill="#1a1a1a" >6</text>
<line x1="395.3" y1="155.3" x2="395.3" y2="157.6" stroke="#555" stroke-width="1" />
<line x1="405.9" y1="155.3" x2="405.9" y2="157.6" stroke="#555" stroke-width="1" />
<line x1="416.4" y1="155.3" x2="416.4" y2="157.6" stroke="#555" stroke-width="1" />
<line x1="427" y1="155.3" x2="427" y2="159.8" stroke="#555" stroke-width="1" />
<text transform="translate(427 171.9) scale(0.92 1)" font-size="9.0" text-anchor="middle" fill="#1a1a1a" >8</text>
<line x1="437.5" y1="155.3" x2="437.5" y2="157.6" stroke="#555" stroke-width="1" />
<line x1="448.1" y1="155.3" x2="448.1" y2="157.6" stroke="#555" stroke-width="1" />
<line x1="458.6" y1="155.3" x2="458.6" y2="157.6" stroke="#555" stroke-width="1" />
<line x1="469.2" y1="155.3" x2="469.2" y2="159.8" stroke="#555" stroke-width="1" />
<text transform="translate(469.2 171.9) scale(0.92 1)" font-size="9.0" text-anchor="middle" fill="#1a1a1a" >10</text>
<line x1="479.8" y1="155.3" x2="479.8" y2="157.6" stroke="#555" stroke-width="1" />
<line x1="490.3" y1="155.3" x2="490.3" y2="157.6" stroke="#555" stroke-width="1" />
<line x1="500.8" y1="155.3" x2="500.8" y2="157.6" stroke="#555" stroke-width="1" />
<line x1="511.4" y1="155.3" x2="511.4" y2="159.8" stroke="#555" stroke-width="1" />
<text transform="translate(511.4 171.9) scale(0.92 1)" font-size="9.0" text-anchor="middle" fill="#1a1a1a" >12</text>
<text x="299.6" y="9.6" font-size="11.2" text-anchor="start" fill="#1a1a1a" textLength="57.3" lengthAdjust="spacingAndGlyphs" >(b) quantile</text>
<text x="405.9" y="187.8" font-size="10.8" text-anchor="middle" fill="#1a1a1a" textLength="24.8" lengthAdjust="spacingAndGlyphs" >RCM</text>
<text x="271.7" y="84.2" font-size="11.2" text-anchor="middle" fill="#1a1a1a" transform="rotate(-90 271.7 84.2)" textLength="29.4" lengthAdjust="spacingAndGlyphs" >ERA5</text>
<g clip-path="url(#clipC)">
<polyline points="39.7,375.3 41,375.3 42.4,375.3 43.7,375.3 45,375.3 46.3,375.3 47.7,375.3 49,375.3 50.3,375.3 51.6,375.3 53,375.2 54.3,375.1 55.6,374.9 56.9,374.7 58.3,374.4 59.6,374 60.9,373.5 62.2,372.8 63.6,371.9 64.9,370.8 66.2,369.5 67.5,367.4 68.9,364.7 70.2,361.8 71.5,358.7 72.8,355.1 74.2,351.3 75.5,347.3 76.8,343 78.1,338.5 79.5,334 80.8,329.6 82.1,325.2 83.5,320.7 84.8,316.2 86.1,311.7 87.4,307.2 88.8,302.9 90.1,298.7 91.4,294.7 92.7,291 94.1,287.4 95.4,284 96.7,280.8 98,277.8 99.4,275 100.7,272.5 102,270.4 103.3,268.4 104.7,266.8 106,265.7 107.3,264.9 108.6,264.3 110,264 111.3,264.2 112.6,264.7 113.9,265.3 115.3,266.3 116.6,267.9 117.9,269.7 119.2,271.6 120.6,273.7 121.9,275.9 123.2,278.2 124.6,280.4 125.9,282.7 127.2,285 128.5,287.3 129.9,289.5 131.2,291.8 132.5,294 133.8,296.2 135.2,298.2 136.5,300.3 137.8,302.3 139.1,304.4 140.5,306.5 141.8,308.7 143.1,311 144.4,313.2 145.8,315.3 147.1,317.4 148.4,319.4 149.7,321.2 151.1,323 152.4,324.7 153.7,326.3 155,327.9 156.4,329.5 157.7,331.1 159,332.5 160.3,333.9 161.7,335.1 163,336.3 164.3,337.4 165.6,338.5 167,339.6 168.3,340.6 169.6,341.5 171,342.5 172.3,343.3 173.6,344.1 174.9,344.9 176.3,345.6 177.6,346.4 178.9,347.1 180.2,347.8 181.6,348.5 182.9,349.2 184.2,349.9 185.5,350.6 186.9,351.3 188.2,352 189.5,352.6 190.8,353.3 192.2,353.9 193.5,354.6 194.8,355.1 196.1,355.7 197.5,356.2 198.8,356.7 200.1,357.1 201.4,357.6 202.8,358.1 204.1,358.5 205.4,359 206.7,359.4 208.1,359.9 209.4,360.3 210.7,360.7 212.1,361.1 213.4,361.5 214.7,361.9 216,362.3 217.4,362.7 218.7,363 220,363.4 221.3,363.7 222.7,364.1 224,364.4 225.3,364.7 226.6,365.1 228,365.4 229.3,365.7 230.6,366 231.9,366.2 233.3,366.5 234.6,366.8 235.9,367 237.2,367.3 238.6,367.5 239.9,367.7 241.2,368 242.5,368.2 243.9,368.4 245.2,368.6 246.5,368.8 247.8,369 249.2,369.2 250.5,369.4" fill="none" stroke="#ffb6c1" stroke-width="1.9" stroke-linejoin="round" stroke-dasharray="3.6 2" />
<polyline points="39.7,375.3 41,375.3 42.4,375.3 43.7,375.3 45,375.3 46.3,375.3 47.7,375.3 49,375.3 50.3,375.3 51.6,375.3 53,375.2 54.3,375.1 55.6,374.9 56.9,374.7 58.3,374.4 59.6,374 60.9,373.5 62.2,372.8 63.6,371.9 64.9,370.8 66.2,369.4 67.5,367.3 68.9,364.6 70.2,361.7 71.5,358.5 72.8,354.9 74.2,351 75.5,347 76.8,342.6 78.1,338 79.5,333.5 80.8,329 82.1,324.5 83.5,319.9 84.8,315.4 86.1,310.8 87.4,306.2 88.8,301.9 90.1,297.6 91.4,293.5 92.7,289.7 94.1,286 95.4,282.5 96.7,279.3 98,276.2 99.4,273.3 100.7,270.9 102,268.7 103.3,266.7 104.7,265 106,263.9 107.3,263.1 108.6,262.5 110,262.2 111.3,262.3 112.6,262.8 113.9,263.5 115.3,264.5 116.6,266.1 117.9,267.9 119.2,269.8 120.6,271.9 121.9,274.2 123.2,276.5 124.6,278.7 125.9,281 127.2,283.3 128.5,285.6 129.9,287.9 131.2,290.2 132.5,292.4 133.8,294.6 135.2,296.7 136.5,298.8 137.8,300.9 139.1,303 140.5,305.2 141.8,307.4 143.1,309.7 144.4,311.9 145.8,314.1 147.1,316.3 148.4,318.3 149.7,320.1 151.1,321.9 152.4,323.6 153.7,325.3 155,326.9 156.4,328.5 157.7,330.1 159,331.6 160.3,333 161.7,334.3 163,335.5 164.3,336.7 165.6,337.8 167,338.8 168.3,339.9 169.6,340.9 171,341.8 172.3,342.7 173.6,343.5 174.9,344.3 176.3,345.1 177.6,345.9 178.9,346.6 180.2,347.4 181.6,348.1 182.9,348.8 184.2,349.6 185.5,350.3 186.9,351 188.2,351.6 189.5,352.3 190.8,353 192.2,353.7 193.5,354.3 194.8,354.9 196.1,355.4 197.5,355.9 198.8,356.4 200.1,356.9 201.4,357.4 202.8,357.9 204.1,358.3 205.4,358.8 206.7,359.2 208.1,359.7 209.4,360.1 210.7,360.5 212.1,361 213.4,361.4 214.7,361.8 216,362.1 217.4,362.5 218.7,362.9 220,363.3 221.3,363.6 222.7,364 224,364.3 225.3,364.6 226.6,365 228,365.3 229.3,365.6 230.6,365.9 231.9,366.1 233.3,366.4 234.6,366.7 235.9,366.9 237.2,367.2 238.6,367.4 239.9,367.7 241.2,367.9 242.5,368.1 243.9,368.3 245.2,368.5 246.5,368.7 247.8,368.9 249.2,369.1 250.5,369.3" fill="none" stroke="#ee55a0" stroke-width="1.9" stroke-linejoin="round" stroke-dasharray="3.6 2" />
<polyline points="39.7,375.3 41,375.3 42.4,375.3 43.7,375.3 45,375.3 46.3,375.3 47.7,375.3 49,375.3 50.3,375.3 51.6,375.3 53,375.2 54.3,375.1 55.6,374.9 56.9,374.7 58.3,374.4 59.6,373.9 60.9,373.4 62.2,372.7 63.6,371.8 64.9,370.6 66.2,369.3 67.5,367.1 68.9,364.4 70.2,361.4 71.5,358.2 72.8,354.5 74.2,350.6 75.5,346.5 76.8,342.1 78.1,337.5 79.5,332.9 80.8,328.4 82.1,323.8 83.5,319.2 84.8,314.6 86.1,310 87.4,305.4 88.8,301 90.1,296.8 91.4,292.7 92.7,288.8 94.1,285.2 95.4,281.7 96.7,278.5 98,275.4 99.4,272.5 100.7,270 102,267.8 103.3,265.8 104.7,264.1 106,263 107.3,262.2 108.6,261.6 110,261.3 111.3,261.5 112.6,262 113.9,262.7 115.3,263.7 116.6,265.3 117.9,267.2 119.2,269.1 120.6,271.3 121.9,273.6 123.2,275.9 124.6,278.2 125.9,280.5 127.2,282.9 128.5,285.3 129.9,287.6 131.2,290 132.5,292.2 133.8,294.5 135.2,296.6 136.5,298.7 137.8,300.8 139.1,302.9 140.5,305.1 141.8,307.3 143.1,309.6 144.4,311.9 145.8,314.1 147.1,316.2 148.4,318.3 149.7,320.1 151.1,321.9 152.4,323.6 153.7,325.3 155,326.9 156.4,328.6 157.7,330.2 159,331.7 160.3,333.1 161.7,334.3 163,335.5 164.3,336.7 165.6,337.8 167,338.8 168.3,339.8 169.6,340.8 171,341.8 172.3,342.6 173.6,343.4 174.9,344.2 176.3,344.9 177.6,345.7 178.9,346.4 180.2,347.1 181.6,347.9 182.9,348.6 184.2,349.3 185.5,350 186.9,350.7 188.2,351.3 189.5,352 190.8,352.7 192.2,353.3 193.5,354 194.8,354.6 196.1,355.1 197.5,355.6 198.8,356.1 200.1,356.6 201.4,357.1 202.8,357.6 204.1,358 205.4,358.5 206.7,359 208.1,359.4 209.4,359.9 210.7,360.3 212.1,360.7 213.4,361.1 214.7,361.5 216,361.9 217.4,362.3 218.7,362.7 220,363 221.3,363.4 222.7,363.7 224,364.1 225.3,364.4 226.6,364.8 228,365.1 229.3,365.4 230.6,365.7 231.9,366 233.3,366.2 234.6,366.5 235.9,366.8 237.2,367 238.6,367.3 239.9,367.5 241.2,367.7 242.5,367.9 243.9,368.2 245.2,368.4 246.5,368.6 247.8,368.8 249.2,369 250.5,369.1" fill="none" stroke="#b01020" stroke-width="1.9" stroke-linejoin="round" stroke-dasharray="3.6 2" />
<polyline points="39.7,375.3 41,375.3 42.4,375.3 43.7,375.3 45,375.3 46.3,375.3 47.7,375.3 49,375.3 50.3,375.3 51.6,375.3 53,375.2 54.3,375.1 55.6,374.9 56.9,374.7 58.3,374.4 59.6,373.9 60.9,373.4 62.2,372.6 63.6,371.7 64.9,370.6 66.2,369.2 67.5,367.1 68.9,364.3 70.2,361.3 71.5,358.1 72.8,354.4 74.2,350.5 75.5,346.4 76.8,342 78.1,337.4 79.5,332.8 80.8,328.3 82.1,323.7 83.5,319.2 84.8,314.5 86.1,309.9 87.4,305.4 88.8,301 90.1,296.7 91.4,292.7 92.7,288.8 94.1,285.2 95.4,281.7 96.7,278.5 98,275.5 99.4,272.6 100.7,270.1 102,268 103.3,265.9 104.7,264.3 106,263.1 107.3,262.3 108.6,261.7 110,261.4 111.3,261.6 112.6,262.1 113.9,262.8 115.3,263.8 116.6,265.4 117.9,267.3 119.2,269.3 120.6,271.4 121.9,273.7 123.2,276.1 124.6,278.4 125.9,280.7 127.2,283.1 128.5,285.5 129.9,287.9 131.2,290.3 132.5,292.6 133.8,294.8 135.2,296.9 136.5,299 137.8,301.1 139.1,303.2 140.5,305.4 141.8,307.6 143.1,309.9 144.4,312.2 145.8,314.4 147.1,316.5 148.4,318.5 149.7,320.4 151.1,322.2 152.4,323.9 153.7,325.5 155,327.2 156.4,328.8 157.7,330.4 159,331.9 160.3,333.3 161.7,334.6 163,335.7 164.3,336.9 165.6,337.9 167,339 168.3,340 169.6,341 171,341.9 172.3,342.7 173.6,343.5 174.9,344.3 176.3,345 177.6,345.7 178.9,346.4 180.2,347.1 181.6,347.9 182.9,348.6 184.2,349.3 185.5,350 186.9,350.6 188.2,351.3 189.5,352 190.8,352.7 192.2,353.3 193.5,353.9 194.8,354.5 196.1,355.1 197.5,355.6 198.8,356.1 200.1,356.6 201.4,357 202.8,357.5 204.1,358 205.4,358.4 206.7,358.9 208.1,359.3 209.4,359.8 210.7,360.2 212.1,360.6 213.4,361.1 214.7,361.5 216,361.9 217.4,362.2 218.7,362.6 220,363 221.3,363.3 222.7,363.7 224,364 225.3,364.4 226.6,364.7 228,365 229.3,365.3 230.6,365.6 231.9,365.9 233.3,366.2 234.6,366.4 235.9,366.7 237.2,367 238.6,367.2 239.9,367.4 241.2,367.7 242.5,367.9 243.9,368.1 245.2,368.3 246.5,368.5 247.8,368.7 249.2,368.9 250.5,369.1" fill="none" stroke="#e8202a" stroke-width="1.9" stroke-linejoin="round" stroke-dasharray="3.6 2" />
<polyline points="39.7,375.3 41,375.3 42.4,375.3 43.7,375.3 45,375.3 46.3,375.3 47.7,375.3 49,375.3 50.3,375.3 51.6,375.3 53,375.2 54.3,375.1 55.6,375 56.9,374.9 58.3,374.6 59.6,374.2 60.9,373.8 62.2,373.1 63.6,372.3 64.9,371.3 66.2,370.1 67.5,368.1 68.9,365.5 70.2,362.6 71.5,359.5 72.8,356 74.2,352.2 75.5,348.2 76.8,343.8 78.1,339.2 79.5,334.7 80.8,330.1 82.1,325.6 83.5,321 84.8,316.4 86.1,311.7 87.4,307.1 88.8,302.5 90.1,298 91.4,293.6 92.7,289.5 94.1,285.6 95.4,281.8 96.7,278.4 98,275.1 99.4,272 100.7,269.3 102,267.1 103.3,265 104.7,263.3 106,262.2 107.3,261.4 108.6,260.8 110,260.4 111.3,260.4 112.6,260.8 113.9,261.5 115.3,262.4 116.6,263.8 117.9,265.6 119.2,267.4 120.6,269.5 121.9,271.6 123.2,273.8 124.6,275.8 125.9,277.9 127.2,279.9 128.5,281.9 129.9,284 131.2,286 132.5,288.1 133.8,290.1 135.2,292.3 136.5,294.4 137.8,296.5 139.1,298.7 140.5,300.9 141.8,303.2 143.1,305.5 144.4,307.8 145.8,310.1 147.1,312.3 148.4,314.3 149.7,316.3 151.1,318.1 152.4,319.8 153.7,321.6 155,323.3 156.4,325 157.7,326.7 159,328.3 160.3,329.8 161.7,331.2 163,332.6 164.3,333.9 165.6,335.1 167,336.4 168.3,337.6 169.6,338.8 171,339.9 172.3,341 173.6,342.1 174.9,343.2 176.3,344.2 177.6,345.2 178.9,346.2 180.2,347.1 181.6,348 182.9,348.9 184.2,349.7 185.5,350.5 186.9,351.3 188.2,352.1 189.5,352.8 190.8,353.5 192.2,354.2 193.5,354.9 194.8,355.5 196.1,356.1 197.5,356.6 198.8,357.2 200.1,357.7 201.4,358.1 202.8,358.6 204.1,359.1 205.4,359.6 206.7,360 208.1,360.5 209.4,360.9 210.7,361.3 212.1,361.8 213.4,362.1 214.7,362.5 216,362.9 217.4,363.2 218.7,363.6 220,363.9 221.3,364.3 222.7,364.6 224,364.9 225.3,365.3 226.6,365.6 228,365.9 229.3,366.2 230.6,366.5 231.9,366.8 233.3,367.1 234.6,367.3 235.9,367.6 237.2,367.8 238.6,368.1 239.9,368.3 241.2,368.6 242.5,368.8 243.9,369 245.2,369.2 246.5,369.5 247.8,369.7 249.2,369.9 250.5,370.1" fill="none" stroke="#9932cc" stroke-width="1.9" stroke-linejoin="round" stroke-dasharray="3.6 2" />
<polyline points="39.7,375.3 41,375.3 42.4,375.3 43.7,375.3 45,375.3 46.3,375.3 47.7,375.3 49,375.3 50.3,375.3 51.6,375.3 53,375.2 54.3,375.1 55.6,375 56.9,374.9 58.3,374.6 59.6,374.3 60.9,373.8 62.2,373.2 63.6,372.4 64.9,371.4 66.2,370.2 67.5,368.2 68.9,365.5 70.2,362.6 71.5,359.5 72.8,356 74.2,352.2 75.5,348.2 76.8,343.8 78.1,339.2 79.5,334.6 80.8,330.1 82.1,325.5 83.5,320.9 84.8,316.2 86.1,311.5 87.4,306.8 88.8,302.2 90.1,297.7 91.4,293.2 92.7,289.1 94.1,285.1 95.4,281.3 96.7,277.7 98,274.4 99.4,271.2 100.7,268.5 102,266.3 103.3,264.2 104.7,262.5 106,261.4 107.3,260.6 108.6,259.9 110,259.6 111.3,259.6 112.6,260 113.9,260.6 115.3,261.5 116.6,262.9 117.9,264.7 119.2,266.5 120.6,268.6 121.9,270.7 123.2,272.9 124.6,274.9 125.9,276.9 127.2,278.9 128.5,280.9 129.9,282.9 131.2,284.9 132.5,287 133.8,289.1 135.2,291.2 136.5,293.3 137.8,295.5 139.1,297.7 140.5,299.9 141.8,302.2 143.1,304.6 144.4,306.9 145.8,309.2 147.1,311.4 148.4,313.5 149.7,315.4 151.1,317.3 152.4,319 153.7,320.8 155,322.5 156.4,324.2 157.7,325.9 159,327.6 160.3,329.1 161.7,330.6 163,331.9 164.3,333.3 165.6,334.6 167,335.8 168.3,337.1 169.6,338.3 171,339.5 172.3,340.6 173.6,341.7 174.9,342.9 176.3,343.9 177.6,345 178.9,346 180.2,347 181.6,347.9 182.9,348.8 184.2,349.6 185.5,350.5 186.9,351.3 188.2,352 189.5,352.8 190.8,353.5 192.2,354.2 193.5,354.9 194.8,355.5 196.1,356.1 197.5,356.6 198.8,357.2 200.1,357.7 201.4,358.2 202.8,358.7 204.1,359.1 205.4,359.6 206.7,360.1 208.1,360.5 209.4,361 210.7,361.4 212.1,361.8 213.4,362.2 214.7,362.6 216,362.9 217.4,363.3 218.7,363.6 220,364 221.3,364.3 222.7,364.6 224,365 225.3,365.3 226.6,365.6 228,366 229.3,366.3 230.6,366.6 231.9,366.8 233.3,367.1 234.6,367.4 235.9,367.6 237.2,367.9 238.6,368.1 239.9,368.4 241.2,368.6 242.5,368.8 243.9,369.1 245.2,369.3 246.5,369.5 247.8,369.8 249.2,370 250.5,370.2" fill="none" stroke="#2e2a7a" stroke-width="1.9" stroke-linejoin="round" stroke-dasharray="3.6 2" />
<polyline points="39.7,375.3 41,375.3 42.4,375.3 43.7,375.3 45,375.3 46.3,375.3 47.7,375.3 49,375.3 50.3,375.3 51.6,375.3 53,375.2 54.3,375.1 55.6,375 56.9,374.9 58.3,374.6 59.6,374.2 60.9,373.8 62.2,373.1 63.6,372.3 64.9,371.3 66.2,370.1 67.5,368 68.9,365.4 70.2,362.4 71.5,359.3 72.8,355.8 74.2,351.9 75.5,347.8 76.8,343.4 78.1,338.7 79.5,334.1 80.8,329.5 82.1,324.9 83.5,320.2 84.8,315.5 86.1,310.8 87.4,306.1 88.8,301.5 90.1,296.8 91.4,292.4 92.7,288.2 94.1,284.2 95.4,280.4 96.7,276.8 98,273.4 99.4,270.3 100.7,267.6 102,265.3 103.3,263.2 104.7,261.5 106,260.4 107.3,259.6 108.6,258.9 110,258.5 111.3,258.5 112.6,259 113.9,259.6 115.3,260.5 116.6,261.9 117.9,263.8 119.2,265.6 120.6,267.7 121.9,269.9 123.2,272 124.6,274.1 125.9,276.2 127.2,278.2 128.5,280.2 129.9,282.3 131.2,284.3 132.5,286.4 133.8,288.5 135.2,290.7 136.5,292.8 137.8,295 139.1,297.2 140.5,299.5 141.8,301.8 143.1,304.1 144.4,306.5 145.8,308.8 147.1,311 148.4,313.1 149.7,315.1 151.1,317 152.4,318.7 153.7,320.5 155,322.2 156.4,324 157.7,325.7 159,327.3 160.3,328.9 161.7,330.3 163,331.7 164.3,333 165.6,334.3 167,335.6 168.3,336.9 169.6,338.1 171,339.3 172.3,340.4 173.6,341.5 174.9,342.6 176.3,343.7 177.6,344.7 178.9,345.7 180.2,346.7 181.6,347.6 182.9,348.5 184.2,349.4 185.5,350.2 186.9,351 188.2,351.8 189.5,352.5 190.8,353.3 192.2,354 193.5,354.6 194.8,355.3 196.1,355.9 197.5,356.4 198.8,356.9 200.1,357.5 201.4,357.9 202.8,358.4 204.1,358.9 205.4,359.4 206.7,359.9 208.1,360.3 209.4,360.8 210.7,361.2 212.1,361.6 213.4,362 214.7,362.4 216,362.8 217.4,363.1 218.7,363.5 220,363.8 221.3,364.2 222.7,364.5 224,364.8 225.3,365.2 226.6,365.5 228,365.8 229.3,366.1 230.6,366.4 231.9,366.7 233.3,367 234.6,367.2 235.9,367.5 237.2,367.8 238.6,368 239.9,368.3 241.2,368.5 242.5,368.7 243.9,369 245.2,369.2 246.5,369.4 247.8,369.6 249.2,369.9 250.5,370.1" fill="none" stroke="#1e90ff" stroke-width="1.9" stroke-linejoin="round" stroke-dasharray="3.6 2" />
<polyline points="39.7,375.3 41,375.3 42.4,375.3 43.7,375.3 45,375.3 46.3,375.3 47.7,375.3 49,375.3 50.3,375.3 51.6,375.3 53,375.2 54.3,375.1 55.6,375 56.9,374.9 58.3,374.6 59.6,374.3 60.9,373.8 62.2,373.2 63.6,372.4 64.9,371.4 66.2,370.2 67.5,368.2 68.9,365.5 70.2,362.6 71.5,359.5 72.8,356 74.2,352.2 75.5,348.1 76.8,343.7 78.1,339.1 79.5,334.5 80.8,329.9 82.1,325.3 83.5,320.7 84.8,316 86.1,311.3 87.4,306.6 88.8,301.9 90.1,297.3 91.4,292.8 92.7,288.6 94.1,284.6 95.4,280.7 96.7,277.2 98,273.8 99.4,270.6 100.7,267.9 102,265.6 103.3,263.5 104.7,261.8 106,260.7 107.3,259.9 108.6,259.2 110,258.8 111.3,258.8 112.6,259.2 113.9,259.9 115.3,260.8 116.6,262.2 117.9,264 119.2,265.8 120.6,267.9 121.9,270 123.2,272.2 124.6,274.2 125.9,276.2 127.2,278.2 128.5,280.2 129.9,282.2 131.2,284.2 132.5,286.2 133.8,288.3 135.2,290.4 136.5,292.6 137.8,294.8 139.1,297 140.5,299.2 141.8,301.5 143.1,303.9 144.4,306.2 145.8,308.6 147.1,310.8 148.4,312.9 149.7,314.8 151.1,316.7 152.4,318.5 153.7,320.2 155,322 156.4,323.7 157.7,325.4 159,327.1 160.3,328.6 161.7,330.1 163,331.5 164.3,332.8 165.6,334.2 167,335.5 168.3,336.7 169.6,338 171,339.2 172.3,340.3 173.6,341.5 174.9,342.6 176.3,343.7 177.6,344.8 178.9,345.8 180.2,346.8 181.6,347.7 182.9,348.6 184.2,349.5 185.5,350.4 186.9,351.2 188.2,351.9 189.5,352.7 190.8,353.4 192.2,354.2 193.5,354.8 194.8,355.5 196.1,356 197.5,356.6 198.8,357.1 200.1,357.6 201.4,358.1 202.8,358.6 204.1,359.1 205.4,359.6 206.7,360 208.1,360.5 209.4,360.9 210.7,361.4 212.1,361.8 213.4,362.2 214.7,362.6 216,362.9 217.4,363.3 218.7,363.6 220,364 221.3,364.3 222.7,364.6 224,365 225.3,365.3 226.6,365.6 228,366 229.3,366.3 230.6,366.6 231.9,366.8 233.3,367.1 234.6,367.4 235.9,367.6 237.2,367.9 238.6,368.1 239.9,368.4 241.2,368.6 242.5,368.9 243.9,369.1 245.2,369.3 246.5,369.6 247.8,369.8 249.2,370 250.5,370.2" fill="none" stroke="#0000cd" stroke-width="1.9" stroke-linejoin="round" stroke-dasharray="3.6 2" />
<polyline points="39.7,375.3 41,375.3 42.4,375.3 43.7,375.3 45,374.7 46.3,373.6 47.7,371.7 49,368.1 50.3,363.4 51.6,356.8 53,348.2 54.3,338.4 55.6,327.1 56.9,314 58.3,301.1 59.6,288.9 60.9,279.7 62.2,272.5 63.6,266.8 64.9,262.1 66.2,258.3 67.5,255.3 68.9,252.7 70.2,250.8 71.5,249.5 72.8,248.4 74.2,247.7 75.5,247.7 76.8,248 78.1,248.7 79.5,249.3 80.8,250.3 82.1,251.6 83.5,253 84.8,254.6 86.1,256.3 87.4,258.4 88.8,260.6 90.1,262.8 91.4,265 92.7,267.3 94.1,269.5 95.4,271.8 96.7,274.1 98,276.2 99.4,278.4 100.7,280.6 102,282.7 103.3,284.9 104.7,287 106,289.2 107.3,291.3 108.6,293.4 110,295.5 111.3,297.6 112.6,299.7 113.9,301.8 115.3,303.9 116.6,306 117.9,308.1 119.2,310.2 120.6,312.4 121.9,314.6 123.2,316.9 124.6,319.2 125.9,321.4 127.2,323.7 128.5,326.1 129.9,328.3 131.2,330.5 132.5,332.5 133.8,334.4 135.2,336.3 136.5,338.1 137.8,339.8 139.1,341.4 140.5,343 141.8,344.6 143.1,346 144.4,347.4 145.8,348.7 147.1,350 148.4,351.2 149.7,352.3 151.1,353.4 152.4,354.5 153.7,355.5 155,356.5 156.4,357.5 157.7,358.4 159,359.3 160.3,360.1 161.7,360.9 163,361.7 164.3,362.4 165.6,363 167,363.6 168.3,364.2 169.6,364.8 171,365.3 172.3,365.8 173.6,366.3 174.9,366.8 176.3,367.3 177.6,367.7 178.9,368.1 180.2,368.5 181.6,368.9 182.9,369.3 184.2,369.7 185.5,370 186.9,370.4 188.2,370.7 189.5,371.1 190.8,371.5 192.2,371.8 193.5,372.1 194.8,372.3 196.1,372.5 197.5,372.7 198.8,372.9 200.1,373.1 201.4,373.2 202.8,373.4 204.1,373.5 205.4,373.7 206.7,373.8 208.1,373.9 209.4,374 210.7,374.1 212.1,374.2 213.4,374.3 214.7,374.3 216,374.4 217.4,374.5 218.7,374.5 220,374.6 221.3,374.7 222.7,374.7 224,374.8 225.3,374.8 226.6,374.8 228,374.9 229.3,374.9 230.6,375 231.9,375 233.3,375 234.6,375.1 235.9,375.1 237.2,375.1 238.6,375.1 239.9,375.2 241.2,375.2 242.5,375.2 243.9,375.2 245.2,375.3 246.5,375.3 247.8,375.3 249.2,375.3 250.5,375.3" fill="none" stroke="#ffb6c1" stroke-width="1.6" stroke-linejoin="round" />
<polyline points="39.7,375.3 41,375.3 42.4,375.3 43.7,375.3 45,374.7 46.3,373.6 47.7,371.7 49,368 50.3,363.2 51.6,356.5 53,347.9 54.3,338 55.6,326.7 56.9,313.5 58.3,300.6 59.6,288.2 60.9,279.1 62.2,271.8 63.6,266.2 64.9,261.5 66.2,257.7 67.5,254.6 68.9,252.1 70.2,250.1 71.5,248.9 72.8,247.8 74.2,247.1 75.5,247 76.8,247.4 78.1,248.1 79.5,248.8 80.8,249.8 82.1,251 83.5,252.5 84.8,254.1 86.1,255.9 87.4,257.9 88.8,260.1 90.1,262.4 91.4,264.6 92.7,266.9 94.1,269.1 95.4,271.4 96.7,273.7 98,275.9 99.4,278 100.7,280.2 102,282.3 103.3,284.5 104.7,286.6 106,288.8 107.3,291 108.6,293.1 110,295.2 111.3,297.3 112.6,299.4 113.9,301.5 115.3,303.6 116.6,305.7 117.9,307.8 119.2,310 120.6,312.1 121.9,314.4 123.2,316.6 124.6,318.9 125.9,321.2 127.2,323.5 128.5,325.8 129.9,328.1 131.2,330.3 132.5,332.3 133.8,334.2 135.2,336.1 136.5,337.9 137.8,339.6 139.1,341.2 140.5,342.9 141.8,344.4 143.1,345.9 144.4,347.2 145.8,348.6 147.1,349.8 148.4,351 149.7,352.2 151.1,353.3 152.4,354.4 153.7,355.4 155,356.4 156.4,357.4 157.7,358.3 159,359.2 160.3,360 161.7,360.8 163,361.6 164.3,362.3 165.6,362.9 167,363.6 168.3,364.2 169.6,364.7 171,365.3 172.3,365.8 173.6,366.3 174.9,366.7 176.3,367.2 177.6,367.7 178.9,368.1 180.2,368.5 181.6,368.9 182.9,369.3 184.2,369.6 185.5,370 186.9,370.4 188.2,370.7 189.5,371.1 190.8,371.4 192.2,371.8 193.5,372.1 194.8,372.3 196.1,372.5 197.5,372.7 198.8,372.9 200.1,373.1 201.4,373.2 202.8,373.4 204.1,373.5 205.4,373.6 206.7,373.8 208.1,373.9 209.4,374 210.7,374.1 212.1,374.2 213.4,374.3 214.7,374.3 216,374.4 217.4,374.5 218.7,374.5 220,374.6 221.3,374.7 222.7,374.7 224,374.8 225.3,374.8 226.6,374.8 228,374.9 229.3,374.9 230.6,375 231.9,375 233.3,375 234.6,375.1 235.9,375.1 237.2,375.1 238.6,375.1 239.9,375.2 241.2,375.2 242.5,375.2 243.9,375.2 245.2,375.3 246.5,375.3 247.8,375.3 249.2,375.3 250.5,375.3" fill="none" stroke="#ee55a0" stroke-width="1.6" stroke-linejoin="round" />
<polyline points="39.7,375.3 41,375.3 42.4,375.3 43.7,375.3 45,374.6 46.3,373.5 47.7,371.6 49,367.9 50.3,363 51.6,356.3 53,347.6 54.3,337.6 55.6,326.2 56.9,313 58.3,300 59.6,287.6 60.9,278.4 62.2,271.2 63.6,265.5 64.9,260.8 66.2,257 67.5,254 68.9,251.4 70.2,249.5 71.5,248.2 72.8,247.1 74.2,246.5 75.5,246.4 76.8,246.8 78.1,247.5 79.5,248.2 80.8,249.2 82.1,250.5 83.5,252 84.8,253.6 86.1,255.4 87.4,257.5 88.8,259.7 90.1,262 91.4,264.2 92.7,266.5 94.1,268.7 95.4,271 96.7,273.3 98,275.5 99.4,277.6 100.7,279.8 102,282 103.3,284.1 104.7,286.3 106,288.4 107.3,290.6 108.6,292.7 110,294.9 111.3,297 112.6,299.1 113.9,301.2 115.3,303.3 116.6,305.4 117.9,307.5 119.2,309.7 120.6,311.9 121.9,314.1 123.2,316.4 124.6,318.7 125.9,321 127.2,323.3 128.5,325.6 129.9,327.9 131.2,330.1 132.5,332.1 133.8,334 135.2,335.9 136.5,337.6 137.8,339.4 139.1,341.1 140.5,342.7 141.8,344.2 143.1,345.7 144.4,347.1 145.8,348.4 147.1,349.7 148.4,350.9 149.7,352 151.1,353.2 152.4,354.2 153.7,355.3 155,356.3 156.4,357.2 157.7,358.2 159,359.1 160.3,359.9 161.7,360.7 163,361.5 164.3,362.2 165.6,362.9 167,363.5 168.3,364.1 169.6,364.7 171,365.2 172.3,365.7 173.6,366.2 174.9,366.7 176.3,367.1 177.6,367.6 178.9,368 180.2,368.4 181.6,368.8 182.9,369.2 184.2,369.6 185.5,370 186.9,370.3 188.2,370.7 189.5,371 190.8,371.4 192.2,371.7 193.5,372 194.8,372.3 196.1,372.5 197.5,372.7 198.8,372.9 200.1,373 201.4,373.2 202.8,373.3 204.1,373.5 205.4,373.6 206.7,373.7 208.1,373.9 209.4,374 210.7,374.1 212.1,374.2 213.4,374.2 214.7,374.3 216,374.4 217.4,374.5 218.7,374.5 220,374.6 221.3,374.6 222.7,374.7 224,374.8 225.3,374.8 226.6,374.8 228,374.9 229.3,374.9 230.6,375 231.9,375 233.3,375 234.6,375.1 235.9,375.1 237.2,375.1 238.6,375.1 239.9,375.2 241.2,375.2 242.5,375.2 243.9,375.2 245.2,375.3 246.5,375.3 247.8,375.3 249.2,375.3 250.5,375.3" fill="none" stroke="#b01020" stroke-width="1.6" stroke-linejoin="round" />
<polyline points="39.7,375.3 41,375.3 42.4,375.3 43.7,375.3 45,374.9 46.3,374 47.7,372.3 49,369.1 50.3,364.7 51.6,358.4 53,350 54.3,340.4 55.6,329.2 56.9,315.9 58.3,303.1 59.6,290.7 60.9,281.2 62.2,273.5 63.6,267.5 64.9,262.5 66.2,258.5 67.5,255.2 68.9,252.4 70.2,250.3 71.5,248.9 72.8,247.8 74.2,247.1 75.5,246.9 76.8,247.1 78.1,247.5 79.5,248 80.8,248.8 82.1,249.9 83.5,251.1 84.8,252.6 86.1,254.1 87.4,256 88.8,258.2 90.1,260.4 91.4,262.6 92.7,264.9 94.1,267.3 95.4,269.8 96.7,272.2 98,274.5 99.4,276.7 100.7,279 102,281.2 103.3,283.4 104.7,285.6 106,287.8 107.3,290 108.6,292.2 110,294.4 111.3,296.5 112.6,298.6 113.9,300.7 115.3,302.9 116.6,305 117.9,307.2 119.2,309.4 120.6,311.7 121.9,313.9 123.2,316.2 124.6,318.5 125.9,320.8 127.2,323.2 128.5,325.6 129.9,328 131.2,330.3 132.5,332.4 133.8,334.3 135.2,336.3 136.5,338.1 137.8,339.8 139.1,341.5 140.5,343.1 141.8,344.6 143.1,346.1 144.4,347.5 145.8,348.8 147.1,350.1 148.4,351.3 149.7,352.4 151.1,353.5 152.4,354.6 153.7,355.6 155,356.6 156.4,357.6 157.7,358.5 159,359.4 160.3,360.3 161.7,361.1 163,361.8 164.3,362.5 165.6,363.2 167,363.8 168.3,364.4 169.6,365 171,365.5 172.3,366 173.6,366.5 174.9,367 176.3,367.5 177.6,367.9 178.9,368.3 180.2,368.7 181.6,369.1 182.9,369.4 184.2,369.8 185.5,370.1 186.9,370.5 188.2,370.8 189.5,371.2 190.8,371.5 192.2,371.9 193.5,372.2 194.8,372.4 196.1,372.6 197.5,372.8 198.8,373 200.1,373.2 201.4,373.3 202.8,373.5 204.1,373.7 205.4,373.8 206.7,373.9 208.1,374 209.4,374.1 210.7,374.2 212.1,374.3 213.4,374.4 214.7,374.4 216,374.5 217.4,374.6 218.7,374.6 220,374.7 221.3,374.7 222.7,374.7 224,374.8 225.3,374.8 226.6,374.9 228,374.9 229.3,374.9 230.6,375 231.9,375 233.3,375 234.6,375 235.9,375.1 237.2,375.1 238.6,375.1 239.9,375.2 241.2,375.2 242.5,375.2 243.9,375.2 245.2,375.2 246.5,375.3 247.8,375.3 249.2,375.3 250.5,375.3" fill="none" stroke="#9932cc" stroke-width="1.6" stroke-linejoin="round" />
<polyline points="39.7,375.3 41,375.3 42.4,375.3 43.7,375.3 45,375 46.3,374.1 47.7,372.5 49,369.3 50.3,365.1 51.6,358.8 53,350.5 54.3,340.8 55.6,329.6 56.9,316.3 58.3,303.4 59.6,291.1 60.9,281.4 62.2,273.5 63.6,267.5 64.9,262.4 66.2,258.3 67.5,255 68.9,252.1 70.2,249.9 71.5,248.6 72.8,247.4 74.2,246.7 75.5,246.5 76.8,246.6 78.1,247 79.5,247.4 80.8,248.1 82.1,249.2 83.5,250.5 84.8,251.8 86.1,253.4 87.4,255.2 88.8,257.3 90.1,259.5 91.4,261.7 92.7,264.1 94.1,266.6 95.4,269.1 96.7,271.5 98,273.8 99.4,276.1 100.7,278.4 102,280.6 103.3,282.9 104.7,285.1 106,287.4 107.3,289.6 108.6,291.8 110,293.9 111.3,296.1 112.6,298.2 113.9,300.3 115.3,302.5 116.6,304.7 117.9,306.9 119.2,309.1 120.6,311.4 121.9,313.6 123.2,315.9 124.6,318.3 125.9,320.6 127.2,323 128.5,325.4 129.9,327.8 131.2,330.1 132.5,332.2 133.8,334.3 135.2,336.2 136.5,338 137.8,339.8 139.1,341.5 140.5,343.1 141.8,344.6 143.1,346.1 144.4,347.5 145.8,348.8 147.1,350 148.4,351.2 149.7,352.4 151.1,353.5 152.4,354.6 153.7,355.6 155,356.6 156.4,357.6 157.7,358.5 159,359.4 160.3,360.3 161.7,361.1 163,361.8 164.3,362.5 165.6,363.2 167,363.8 168.3,364.4 169.6,365 171,365.5 172.3,366 173.6,366.6 174.9,367 176.3,367.5 177.6,367.9 178.9,368.4 180.2,368.7 181.6,369.1 182.9,369.5 184.2,369.8 185.5,370.2 186.9,370.5 188.2,370.8 189.5,371.2 190.8,371.6 192.2,371.9 193.5,372.2 194.8,372.4 196.1,372.7 197.5,372.8 198.8,373 200.1,373.2 201.4,373.4 202.8,373.5 204.1,373.7 205.4,373.8 206.7,373.9 208.1,374.1 209.4,374.2 210.7,374.2 212.1,374.3 213.4,374.4 214.7,374.5 216,374.5 217.4,374.6 218.7,374.6 220,374.7 221.3,374.7 222.7,374.7 224,374.8 225.3,374.8 226.6,374.9 228,374.9 229.3,374.9 230.6,375 231.9,375 233.3,375 234.6,375 235.9,375.1 237.2,375.1 238.6,375.1 239.9,375.1 241.2,375.2 242.5,375.2 243.9,375.2 245.2,375.2 246.5,375.3 247.8,375.3 249.2,375.3 250.5,375.3" fill="none" stroke="#2e2a7a" stroke-width="1.6" stroke-linejoin="round" />
<polyline points="39.7,375.3 41,375.3 42.4,375.3 43.7,375.3 45,375 46.3,374.1 47.7,372.4 49,369.2 50.3,364.9 51.6,358.6 53,350.2 54.3,340.6 55.6,329.3 56.9,316 58.3,303.1 59.6,290.7 60.9,281.1 62.2,273.2 63.6,267.1 64.9,262.1 66.2,258 67.5,254.7 68.9,251.8 70.2,249.7 71.5,248.3 72.8,247.2 74.2,246.4 75.5,246.2 76.8,246.4 78.1,246.8 79.5,247.2 80.8,248 82.1,249 83.5,250.3 84.8,251.7 86.1,253.3 87.4,255.1 88.8,257.3 90.1,259.5 91.4,261.7 92.7,264 94.1,266.5 95.4,269 96.7,271.4 98,273.7 99.4,276 100.7,278.3 102,280.5 103.3,282.8 104.7,285 106,287.3 107.3,289.5 108.6,291.7 110,293.8 111.3,296 112.6,298.1 113.9,300.2 115.3,302.4 116.6,304.6 117.9,306.8 119.2,309 120.6,311.3 121.9,313.6 123.2,315.9 124.6,318.2 125.9,320.5 127.2,322.9 128.5,325.4 129.9,327.8 131.2,330 132.5,332.1 133.8,334.2 135.2,336.1 136.5,337.9 137.8,339.7 139.1,341.4 140.5,343 141.8,344.5 143.1,346 144.4,347.4 145.8,348.7 147.1,350 148.4,351.2 149.7,352.3 151.1,353.5 152.4,354.5 153.7,355.6 155,356.6 156.4,357.5 157.7,358.5 159,359.4 160.3,360.2 161.7,361 163,361.8 164.3,362.5 165.6,363.2 167,363.8 168.3,364.4 169.6,365 171,365.5 172.3,366 173.6,366.5 174.9,367 176.3,367.5 177.6,367.9 178.9,368.3 180.2,368.7 181.6,369.1 182.9,369.4 184.2,369.8 185.5,370.1 186.9,370.5 188.2,370.8 189.5,371.2 190.8,371.5 192.2,371.9 193.5,372.2 194.8,372.4 196.1,372.6 197.5,372.8 198.8,373 200.1,373.2 201.4,373.4 202.8,373.5 204.1,373.7 205.4,373.8 206.7,373.9 208.1,374 209.4,374.1 210.7,374.2 212.1,374.3 213.4,374.4 214.7,374.4 216,374.5 217.4,374.6 218.7,374.6 220,374.7 221.3,374.7 222.7,374.7 224,374.8 225.3,374.8 226.6,374.9 228,374.9 229.3,374.9 230.6,375 231.9,375 233.3,375 234.6,375 235.9,375.1 237.2,375.1 238.6,375.1 239.9,375.2 241.2,375.2 242.5,375.2 243.9,375.2 245.2,375.2 246.5,375.3 247.8,375.3 249.2,375.3 250.5,375.3" fill="none" stroke="#1e90ff" stroke-width="1.6" stroke-linejoin="round" />
<polyline points="39.7,375.3 41,375.3 42.4,375.3 43.7,375.2 45,374.6 46.3,373.4 47.7,371.5 49,367.7 50.3,362.8 51.6,356 53,347.2 54.3,337.3 55.6,325.8 56.9,312.6 58.3,299.6 59.6,287.2 60.9,278.1 62.2,270.9 63.6,265.3 64.9,260.7 66.2,256.9 67.5,253.9 68.9,251.4 70.2,249.5 71.5,248.2 72.8,247.1 74.2,246.5 75.5,246.4 76.8,246.9 78.1,247.5 79.5,248.3 80.8,249.4 82.1,250.7 83.5,252.2 84.8,253.9 86.1,255.7 87.4,257.8 88.8,260 90.1,262.3 91.4,264.6 92.7,266.8 94.1,269 95.4,271.3 96.7,273.5 98,275.7 99.4,277.8 100.7,280 102,282.1 103.3,284.3 104.7,286.4 106,288.6 107.3,290.7 108.6,292.9 110,295 111.3,297.1 112.6,299.2 113.9,301.3 115.3,303.4 116.6,305.5 117.9,307.6 119.2,309.7 120.6,311.9 121.9,314.2 123.2,316.4 124.6,318.7 125.9,321 127.2,323.3 128.5,325.6 129.9,327.9 131.2,330.1 132.5,332.1 133.8,334 135.2,335.8 136.5,337.6 137.8,339.3 139.1,341 140.5,342.6 141.8,344.2 143.1,345.7 144.4,347 145.8,348.4 147.1,349.6 148.4,350.8 149.7,352 151.1,353.1 152.4,354.2 153.7,355.2 155,356.2 156.4,357.2 157.7,358.2 159,359.1 160.3,359.9 161.7,360.7 163,361.4 164.3,362.2 165.6,362.8 167,363.5 168.3,364.1 169.6,364.6 171,365.2 172.3,365.7 173.6,366.2 174.9,366.6 176.3,367.1 177.6,367.6 178.9,368 180.2,368.4 181.6,368.8 182.9,369.2 184.2,369.6 185.5,369.9 186.9,370.3 188.2,370.7 189.5,371 190.8,371.4 192.2,371.7 193.5,372 194.8,372.3 196.1,372.5 197.5,372.7 198.8,372.8 200.1,373 201.4,373.2 202.8,373.3 204.1,373.5 205.4,373.6 206.7,373.7 208.1,373.8 209.4,373.9 210.7,374 212.1,374.1 213.4,374.2 214.7,374.3 216,374.4 217.4,374.4 218.7,374.5 220,374.6 221.3,374.6 222.7,374.7 224,374.7 225.3,374.8 226.6,374.8 228,374.9 229.3,374.9 230.6,375 231.9,375 233.3,375 234.6,375.1 235.9,375.1 237.2,375.1 238.6,375.1 239.9,375.2 241.2,375.2 242.5,375.2 243.9,375.2 245.2,375.3 246.5,375.3 247.8,375.3 249.2,375.3 250.5,375.3" fill="none" stroke="#e8202a" stroke-width="1.6" stroke-linejoin="round" />
<polyline points="39.7,375.3 41,375.3 42.4,375.3 43.7,375.3 45,375 46.3,374.1 47.7,372.5 49,369.4 50.3,365.2 51.6,358.9 53,350.6 54.3,341 55.6,329.7 56.9,316.4 58.3,303.5 59.6,291.1 60.9,281.4 62.2,273.5 63.6,267.3 64.9,262.3 66.2,258.1 67.5,254.8 68.9,251.8 70.2,249.7 71.5,248.3 72.8,247.2 74.2,246.4 75.5,246.2 76.8,246.3 78.1,246.7 79.5,247.1 80.8,247.8 82.1,248.9 83.5,250.1 84.8,251.5 86.1,253 87.4,254.9 88.8,256.9 90.1,259.2 91.4,261.4 92.7,263.7 94.1,266.2 95.4,268.7 96.7,271.2 98,273.5 99.4,275.8 100.7,278.1 102,280.4 103.3,282.6 104.7,284.9 106,287.1 107.3,289.3 108.6,291.5 110,293.7 111.3,295.9 112.6,298 113.9,300.1 115.3,302.3 116.6,304.5 117.9,306.7 119.2,308.9 120.6,311.2 121.9,313.5 123.2,315.8 124.6,318.1 125.9,320.5 127.2,322.9 128.5,325.3 129.9,327.7 131.2,330 132.5,332.2 133.8,334.2 135.2,336.1 136.5,338 137.8,339.7 139.1,341.4 140.5,343 141.8,344.6 143.1,346 144.4,347.4 145.8,348.7 147.1,350 148.4,351.2 149.7,352.4 151.1,353.5 152.4,354.6 153.7,355.6 155,356.6 156.4,357.6 157.7,358.5 159,359.4 160.3,360.3 161.7,361.1 163,361.8 164.3,362.5 165.6,363.2 167,363.8 168.3,364.4 169.6,365 171,365.5 172.3,366 173.6,366.6 174.9,367 176.3,367.5 177.6,367.9 178.9,368.4 180.2,368.8 181.6,369.1 182.9,369.5 184.2,369.8 185.5,370.2 186.9,370.5 188.2,370.8 189.5,371.2 190.8,371.6 192.2,371.9 193.5,372.2 194.8,372.4 196.1,372.7 197.5,372.8 198.8,373 200.1,373.2 201.4,373.4 202.8,373.5 204.1,373.7 205.4,373.8 206.7,373.9 208.1,374.1 209.4,374.2 210.7,374.3 212.1,374.3 213.4,374.4 214.7,374.5 216,374.5 217.4,374.6 218.7,374.6 220,374.7 221.3,374.7 222.7,374.7 224,374.8 225.3,374.8 226.6,374.9 228,374.9 229.3,374.9 230.6,375 231.9,375 233.3,375 234.6,375 235.9,375.1 237.2,375.1 238.6,375.1 239.9,375.1 241.2,375.2 242.5,375.2 243.9,375.2 245.2,375.2 246.5,375.3 247.8,375.3 249.2,375.3 250.5,375.3" fill="none" stroke="#0000cd" stroke-width="1.6" stroke-linejoin="round" />
<polyline points="39.7,375.3 41,375.3 46.2,373 51.5,355 54.5,337.1 57.5,307 60.5,280.1 63.3,259.7 65,249.4 70.1,242.4 74.3,243.9 78.1,249.4 85,258.2 91,267.8 97,277.4 102.9,286.5 109,295.3 115,304.9 120.1,312.2 125.7,320.5 131.5,329.8 137.1,337.7 142.9,344.6 148.6,350.3 154.4,355 160,358.9 165.8,362.3 171.4,364.8 178.8,367.4 187.3,370 195,371.9 212.6,374 229.4,374.7 250.5,375.1" fill="none" stroke="#000" stroke-width="1.35" stroke-linejoin="round" />
</g>
<rect x="39.7" y="205.9" width="210.8" height="169.4" fill="none" stroke="#8a8a8a" stroke-width="1.3"/>
<line x1="35.2" y1="375.3" x2="39.7" y2="375.3" stroke="#555" stroke-width="1" />
<text transform="translate(29.6 378.5) scale(0.92 1)" font-size="9.0" text-anchor="end" fill="#1a1a1a" >0.0</text>
<line x1="37.4" y1="365.9" x2="39.7" y2="365.9" stroke="#555" stroke-width="1" />
<line x1="37.4" y1="356.5" x2="39.7" y2="356.5" stroke="#555" stroke-width="1" />
<line x1="37.4" y1="347.1" x2="39.7" y2="347.1" stroke="#555" stroke-width="1" />
<line x1="35.2" y1="337.7" x2="39.7" y2="337.7" stroke="#555" stroke-width="1" />
<text transform="translate(29.6 340.9) scale(0.92 1)" font-size="9.0" text-anchor="end" fill="#1a1a1a" >2.0</text>
<line x1="37.4" y1="328.2" x2="39.7" y2="328.2" stroke="#555" stroke-width="1" />
<line x1="37.4" y1="318.8" x2="39.7" y2="318.8" stroke="#555" stroke-width="1" />
<line x1="37.4" y1="309.4" x2="39.7" y2="309.4" stroke="#555" stroke-width="1" />
<line x1="35.2" y1="300" x2="39.7" y2="300" stroke="#555" stroke-width="1" />
<text transform="translate(29.6 303.2) scale(0.92 1)" font-size="9.0" text-anchor="end" fill="#1a1a1a" >4.0</text>
<line x1="37.4" y1="290.6" x2="39.7" y2="290.6" stroke="#555" stroke-width="1" />
<line x1="37.4" y1="281.2" x2="39.7" y2="281.2" stroke="#555" stroke-width="1" />
<line x1="37.4" y1="271.8" x2="39.7" y2="271.8" stroke="#555" stroke-width="1" />
<line x1="35.2" y1="262.4" x2="39.7" y2="262.4" stroke="#555" stroke-width="1" />
<text transform="translate(29.6 265.6) scale(0.92 1)" font-size="9.0" text-anchor="end" fill="#1a1a1a" >6.0</text>
<line x1="37.4" y1="253" x2="39.7" y2="253" stroke="#555" stroke-width="1" />
<line x1="37.4" y1="243.5" x2="39.7" y2="243.5" stroke="#555" stroke-width="1" />
<line x1="37.4" y1="234.1" x2="39.7" y2="234.1" stroke="#555" stroke-width="1" />
<line x1="35.2" y1="224.7" x2="39.7" y2="224.7" stroke="#555" stroke-width="1" />
<text transform="translate(29.6 227.9) scale(0.92 1)" font-size="9.0" text-anchor="end" fill="#1a1a1a" >8.0</text>
<line x1="37.4" y1="215.3" x2="39.7" y2="215.3" stroke="#555" stroke-width="1" />
<line x1="37.4" y1="205.9" x2="39.7" y2="205.9" stroke="#555" stroke-width="1" />
<line x1="39.7" y1="375.3" x2="39.7" y2="379.8" stroke="#555" stroke-width="1" />
<text transform="translate(39.7 392.8) scale(0.92 1)" font-size="9.0" text-anchor="middle" fill="#1a1a1a" >0</text>
<line x1="53.8" y1="375.3" x2="53.8" y2="377.6" stroke="#555" stroke-width="1" />
<line x1="67.8" y1="375.3" x2="67.8" y2="377.6" stroke="#555" stroke-width="1" />
<line x1="81.9" y1="375.3" x2="81.9" y2="379.8" stroke="#555" stroke-width="1" />
<text transform="translate(81.9 392.8) scale(0.92 1)" font-size="9.0" text-anchor="middle" fill="#1a1a1a" >3</text>
<line x1="95.9" y1="375.3" x2="95.9" y2="377.6" stroke="#555" stroke-width="1" />
<line x1="110" y1="375.3" x2="110" y2="377.6" stroke="#555" stroke-width="1" />
<line x1="124" y1="375.3" x2="124" y2="379.8" stroke="#555" stroke-width="1" />
<text transform="translate(124 392.8) scale(0.92 1)" font-size="9.0" text-anchor="middle" fill="#1a1a1a" >6</text>
<line x1="138.1" y1="375.3" x2="138.1" y2="377.6" stroke="#555" stroke-width="1" />
<line x1="152.1" y1="375.3" x2="152.1" y2="377.6" stroke="#555" stroke-width="1" />
<line x1="166.2" y1="375.3" x2="166.2" y2="379.8" stroke="#555" stroke-width="1" />
<text transform="translate(166.2 392.8) scale(0.92 1)" font-size="9.0" text-anchor="middle" fill="#1a1a1a" >9</text>
<line x1="180.2" y1="375.3" x2="180.2" y2="377.6" stroke="#555" stroke-width="1" />
<line x1="194.3" y1="375.3" x2="194.3" y2="377.6" stroke="#555" stroke-width="1" />
<line x1="208.3" y1="375.3" x2="208.3" y2="379.8" stroke="#555" stroke-width="1" />
<text transform="translate(208.3 392.8) scale(0.92 1)" font-size="9.0" text-anchor="middle" fill="#1a1a1a" >12</text>
<line x1="222.4" y1="375.3" x2="222.4" y2="377.6" stroke="#555" stroke-width="1" />
<line x1="236.4" y1="375.3" x2="236.4" y2="377.6" stroke="#555" stroke-width="1" />
<line x1="250.5" y1="375.3" x2="250.5" y2="379.8" stroke="#555" stroke-width="1" />
<text transform="translate(250.5 392.8) scale(0.92 1)" font-size="9.0" text-anchor="middle" fill="#1a1a1a" >15</text>
<text x="38.8" y="202" font-size="11.4" text-anchor="start" fill="#1a1a1a" textLength="39.2" lengthAdjust="spacingAndGlyphs" >(c) PDF</text>
<text x="145.4" y="407.6" font-size="11.2" text-anchor="middle" fill="#1a1a1a" textLength="83.5" lengthAdjust="spacingAndGlyphs" >wind speed (m/s)</text>
<text x="10.6" y="290.5" font-size="11.2" text-anchor="middle" fill="#1a1a1a" transform="rotate(-90 10.6 290.5)" textLength="38.0" lengthAdjust="spacingAndGlyphs" >PDF (%)</text>
<g clip-path="url(#clipD)">
<polyline points="300.7,375.3 301.7,375.3 302.7,375.3 303.7,375.3 304.7,375.3 305.6,375.3 306.6,375.3 307.6,375.3 308.6,375.3 309.6,375.3 310.6,375.3 311.6,375.3 312.6,375.3 313.6,375.3 314.5,375.3 315.5,375.3 316.5,375.3 317.5,375.3 318.5,375.3 319.5,375.3 320.5,375.3 321.5,375.3 322.5,375.2 323.4,375.2 324.4,375.1 325.4,375.1 326.4,375 327.4,374.9 328.4,374.7 329.4,374.6 330.4,374.4 331.4,374.1 332.4,373.8 333.3,373.5 334.3,373.1 335.3,372.7 336.3,372.2 337.3,371.6 338.3,371 339.3,370.3 340.3,369.6 341.3,368.7 342.2,367.9 343.2,366.9 344.2,365.9 345.2,364.8 346.1,363.7 347.1,362.5 348,361.3 349,359.9 349.9,358.6 350.9,357.2 351.8,355.7 352.7,354.2 353.7,352.6 354.6,351 355.6,349.4 356.5,347.7 357.5,346 358.4,344.2 359.4,342.5 360.3,340.7 361.3,338.9 362.2,337.1 363.1,335.3 364.1,333.4 365,331.6 366,329.7 366.9,327.9 367.9,326 368.8,324.2 369.8,322.3 370.7,320.5 371.6,318.6 372.6,316.8 373.5,315 374.5,313.2 375.4,311.4 376.4,309.7 377.3,307.9 378.3,306.2 379.2,304.5 380.2,302.8 381.1,301.1 382,299.5 383,297.9 383.9,296.3 384.9,294.7 385.8,293.1 386.8,291.6 388.2,289.4 390.7,285.5 393.3,281.7 395.8,278.2 398.4,274.8 401,271.6 403.5,268.5 406.1,265.7 408.6,262.9 411.2,260.4 413.7,257.9 416.3,255.6 418.8,253.4 421.4,251.4 423.9,249.5 426.5,247.6 429.1,245.9 431.6,244.3 434.2,242.8 436.7,241.3 439.3,240 441.8,238.7 444.4,237.5 446.9,236.4 449.5,235.3 452.1,234.3 454.6,233.3 457.2,232.5 459.7,231.6 462.3,230.9 464.8,230.1 467.4,229.4 469.9,228.8 472.5,228.2 475,227.6 477.6,227.1 480.2,226.6 482.7,226.2 485.3,225.8 487.8,225.4 490.4,225 492.9,224.7 495.5,224.3 498,224.1 500.6,223.8 503.1,223.5 505.7,223.3 508.3,223.1 510.8,222.9 513.4,222.7" fill="none" stroke="#ffb6c1" stroke-width="1.9" stroke-linejoin="round" stroke-dasharray="3.6 2" />
<polyline points="300.7,375.3 301.7,375.3 302.6,375.3 303.6,375.3 304.6,375.3 305.6,375.3 306.6,375.3 307.5,375.3 308.5,375.3 309.5,375.3 310.5,375.3 311.4,375.3 312.4,375.3 313.4,375.3 314.4,375.3 315.3,375.3 316.3,375.3 317.3,375.3 318.3,375.3 319.2,375.3 320.2,375.3 321.2,375.3 322.2,375.2 323.2,375.2 324.1,375.1 325.1,375.1 326.1,375 327.1,374.9 328,374.7 329,374.6 330,374.4 331,374.1 331.9,373.8 332.9,373.5 333.9,373.1 334.9,372.7 335.9,372.2 336.8,371.6 337.8,371 338.8,370.3 339.8,369.6 340.7,368.7 341.7,367.9 342.7,366.9 343.7,365.9 344.6,364.8 345.6,363.7 346.5,362.5 347.5,361.3 348.4,359.9 349.3,358.6 350.3,357.2 351.2,355.7 352.2,354.2 353.1,352.6 354.1,351 355,349.4 356,347.7 356.9,346 357.9,344.2 358.8,342.5 359.7,340.7 360.7,338.9 361.6,337.1 362.6,335.3 363.5,333.4 364.5,331.6 365.4,329.7 366.4,327.9 367.3,326 368.2,324.2 369.2,322.3 370.1,320.5 371.1,318.6 372,316.8 373,315 373.9,313.2 374.9,311.4 375.8,309.7 376.8,307.9 377.7,306.2 378.6,304.5 379.6,302.8 380.5,301.1 381.5,299.5 382.4,297.9 383.4,296.3 384.3,294.7 385.3,293.1 386.2,291.6 387.6,289.4 390.2,285.5 392.7,281.7 395.3,278.2 397.8,274.8 400.4,271.6 402.9,268.5 405.5,265.7 408.1,262.9 410.6,260.4 413.2,257.9 415.7,255.6 418.3,253.4 420.8,251.4 423.4,249.5 425.9,247.6 428.5,245.9 431,244.3 433.6,242.8 436.2,241.3 438.7,240 441.3,238.7 443.8,237.5 446.4,236.4 448.9,235.3 451.5,234.3 454,233.3 456.6,232.5 459.2,231.6 461.7,230.9 464.3,230.1 466.8,229.4 469.4,228.8 471.9,228.2 474.5,227.6 477,227.1 479.6,226.6 482.1,226.2 484.7,225.8 487.3,225.4 489.8,225 492.4,224.7 494.9,224.3 497.5,224.1 500,223.8 502.6,223.5 505.1,223.3 507.7,223.1 510.3,222.9 512.8,222.7" fill="none" stroke="#ee55a0" stroke-width="1.9" stroke-linejoin="round" stroke-dasharray="3.6 2" />
<polyline points="300.7,375.3 301.7,375.3 302.6,375.3 303.6,375.3 304.6,375.3 305.6,375.3 306.6,375.3 307.5,375.3 308.5,375.3 309.5,375.3 310.5,375.3 311.4,375.3 312.4,375.3 313.4,375.3 314.4,375.3 315.3,375.3 316.3,375.3 317.3,375.3 318.3,375.3 319.2,375.3 320.2,375.3 321.2,375.3 322.2,375.2 323.2,375.2 324.1,375.1 325.1,375.1 326.1,375 327.1,374.9 328,374.7 329,374.6 330,374.4 331,374.1 331.9,373.8 332.9,373.5 333.9,373.1 334.9,372.7 335.9,372.2 336.8,371.6 337.8,371 338.8,370.3 339.8,369.6 340.7,368.7 341.7,367.9 342.7,366.9 343.7,365.9 344.6,364.8 345.6,363.7 346.5,362.5 347.5,361.3 348.4,359.9 349.3,358.6 350.3,357.2 351.2,355.7 352.2,354.2 353.1,352.6 354.1,351 355,349.4 356,347.7 356.9,346 357.9,344.2 358.8,342.5 359.7,340.7 360.7,338.9 361.6,337.1 362.6,335.3 363.5,333.4 364.5,331.6 365.4,329.7 366.4,327.9 367.3,326 368.2,324.2 369.2,322.3 370.1,320.5 371.1,318.6 372,316.8 373,315 373.9,313.2 374.9,311.4 375.8,309.7 376.8,307.9 377.7,306.2 378.6,304.5 379.6,302.8 380.5,301.1 381.5,299.5 382.4,297.9 383.4,296.3 384.3,294.7 385.3,293.1 386.2,291.6 387.6,289.4 390.2,285.5 392.7,281.7 395.3,278.2 397.8,274.8 400.4,271.6 402.9,268.5 405.5,265.7 408.1,262.9 410.6,260.4 413.2,257.9 415.7,255.6 418.3,253.4 420.8,251.4 423.4,249.5 425.9,247.6 428.5,245.9 431,244.3 433.6,242.8 436.2,241.3 438.7,240 441.3,238.7 443.8,237.5 446.4,236.4 448.9,235.3 451.5,234.3 454,233.3 456.6,232.5 459.2,231.6 461.7,230.9 464.3,230.1 466.8,229.4 469.4,228.8 471.9,228.2 474.5,227.6 477,227.1 479.6,226.6 482.1,226.2 484.7,225.8 487.3,225.4 489.8,225 492.4,224.7 494.9,224.3 497.5,224.1 500,223.8 502.6,223.5 505.1,223.3 507.7,223.1 510.3,222.9 512.8,222.7" fill="none" stroke="#b01020" stroke-width="1.9" stroke-linejoin="round" stroke-dasharray="3.6 2" />
<polyline points="300.7,375.3 301.7,375.3 302.6,375.3 303.6,375.3 304.6,375.3 305.5,375.3 306.5,375.3 307.5,375.3 308.5,375.3 309.4,375.3 310.4,375.3 311.4,375.3 312.3,375.3 313.3,375.3 314.3,375.3 315.2,375.3 316.2,375.3 317.2,375.3 318.2,375.3 319.1,375.3 320.1,375.3 321.1,375.3 322,375.2 323,375.2 324,375.1 324.9,375.1 325.9,375 326.9,374.9 327.9,374.7 328.8,374.6 329.8,374.4 330.8,374.1 331.7,373.8 332.7,373.5 333.7,373.1 334.7,372.7 335.6,372.2 336.6,371.6 337.6,371 338.5,370.3 339.5,369.6 340.5,368.7 341.4,367.9 342.4,366.9 343.4,365.9 344.3,364.8 345.3,363.7 346.2,362.5 347.2,361.3 348.1,359.9 349.1,358.6 350,357.2 351,355.7 351.9,354.2 352.8,352.6 353.8,351 354.7,349.4 355.7,347.7 356.6,346 357.6,344.2 358.5,342.5 359.5,340.7 360.4,338.9 361.4,337.1 362.3,335.3 363.2,333.4 364.2,331.6 365.1,329.7 366.1,327.9 367,326 368,324.2 368.9,322.3 369.9,320.5 370.8,318.6 371.7,316.8 372.7,315 373.6,313.2 374.6,311.4 375.5,309.7 376.5,307.9 377.4,306.2 378.4,304.5 379.3,302.8 380.3,301.1 381.2,299.5 382.1,297.9 383.1,296.3 384,294.7 385,293.1 385.9,291.6 387.3,289.4 389.9,285.5 392.4,281.7 395,278.2 397.6,274.8 400.1,271.6 402.7,268.5 405.2,265.7 407.8,262.9 410.3,260.4 412.9,257.9 415.4,255.6 418,253.4 420.5,251.4 423.1,249.5 425.7,247.6 428.2,245.9 430.8,244.3 433.3,242.8 435.9,241.3 438.4,240 441,238.7 443.5,237.5 446.1,236.4 448.7,235.3 451.2,234.3 453.8,233.3 456.3,232.5 458.9,231.6 461.4,230.9 464,230.1 466.5,229.4 469.1,228.8 471.6,228.2 474.2,227.6 476.8,227.1 479.3,226.6 481.9,226.2 484.4,225.8 487,225.4 489.5,225 492.1,224.7 494.6,224.3 497.2,224.1 499.8,223.8 502.3,223.5 504.9,223.3 507.4,223.1 510,222.9 512.5,222.7" fill="none" stroke="#e8202a" stroke-width="1.9" stroke-linejoin="round" stroke-dasharray="3.6 2" />
<polyline points="300.7,375.3 301.6,375.3 302.6,375.3 303.5,375.3 304.5,375.3 305.4,375.3 306.4,375.3 307.3,375.3 308.2,375.3 309.2,375.3 310.1,375.3 311.1,375.3 312,375.3 313,375.3 313.9,375.3 314.9,375.3 315.8,375.3 316.7,375.3 317.7,375.3 318.6,375.3 319.6,375.3 320.5,375.3 321.5,375.2 322.4,375.2 323.4,375.1 324.3,375.1 325.3,375 326.2,374.9 327.1,374.7 328.1,374.6 329,374.4 330,374.1 330.9,373.8 331.9,373.5 332.8,373.1 333.8,372.7 334.7,372.2 335.7,371.6 336.6,371 337.5,370.3 338.5,369.6 339.4,368.7 340.4,367.9 341.3,366.9 342.3,365.9 343.2,364.8 344.2,363.7 345.1,362.5 346,361.3 347,359.9 347.9,358.6 348.9,357.2 349.8,355.7 350.8,354.2 351.7,352.6 352.7,351 353.6,349.4 354.6,347.7 355.5,346 356.4,344.2 357.4,342.5 358.3,340.7 359.3,338.9 360.2,337.1 361.2,335.3 362.1,333.4 363.1,331.6 364,329.7 365,327.9 365.9,326 366.8,324.2 367.8,322.3 368.7,320.5 369.7,318.6 370.6,316.8 371.6,315 372.5,313.2 373.5,311.4 374.4,309.7 375.3,307.9 376.3,306.2 377.2,304.5 378.2,302.8 379.1,301.1 380.1,299.5 381,297.9 382,296.3 382.9,294.7 383.9,293.1 384.8,291.6 386.2,289.4 388.8,285.5 391.3,281.7 393.9,278.2 396.4,274.8 399,271.6 401.5,268.5 404.1,265.7 406.6,262.9 409.2,260.4 411.8,257.9 414.3,255.6 416.9,253.4 419.4,251.4 422,249.5 424.5,247.6 427.1,245.9 429.6,244.3 432.2,242.8 434.8,241.3 437.3,240 439.9,238.7 442.4,237.5 445,236.4 447.5,235.3 450.1,234.3 452.6,233.3 455.2,232.5 457.7,231.6 460.3,230.9 462.9,230.1 465.4,229.4 468,228.8 470.5,228.2 473.1,227.6 475.6,227.1 478.2,226.6 480.7,226.2 483.3,225.8 485.9,225.4 488.4,225 491,224.7 493.5,224.3 496.1,224.1 498.6,223.8 501.2,223.5 503.7,223.3 506.3,223.1 508.8,222.9 511.4,222.7" fill="none" stroke="#9932cc" stroke-width="1.9" stroke-linejoin="round" stroke-dasharray="3.6 2" />
<polyline points="300.7,375.3 301.6,375.3 302.6,375.3 303.5,375.3 304.5,375.3 305.4,375.3 306.4,375.3 307.3,375.3 308.3,375.3 309.2,375.3 310.2,375.3 311.1,375.3 312.1,375.3 313.1,375.3 314,375.3 315,375.3 315.9,375.3 316.9,375.3 317.8,375.3 318.8,375.3 319.7,375.3 320.7,375.3 321.6,375.2 322.6,375.2 323.5,375.1 324.5,375.1 325.4,375 326.4,374.9 327.3,374.7 328.3,374.6 329.2,374.4 330.2,374.1 331.1,373.8 332.1,373.5 333,373.1 334,372.7 334.9,372.2 335.9,371.6 336.8,371 337.8,370.3 338.7,369.6 339.7,368.7 340.6,367.9 341.6,366.9 342.5,365.9 343.5,364.8 344.4,363.7 345.4,362.5 346.3,361.3 347.3,359.9 348.2,358.6 349.2,357.2 350.1,355.7 351.1,354.2 352,352.6 352.9,351 353.9,349.4 354.8,347.7 355.8,346 356.7,344.2 357.7,342.5 358.6,340.7 359.6,338.9 360.5,337.1 361.5,335.3 362.4,333.4 363.3,331.6 364.3,329.7 365.2,327.9 366.2,326 367.1,324.2 368.1,322.3 369,320.5 370,318.6 370.9,316.8 371.8,315 372.8,313.2 373.7,311.4 374.7,309.7 375.6,307.9 376.6,306.2 377.5,304.5 378.5,302.8 379.4,301.1 380.4,299.5 381.3,297.9 382.2,296.3 383.2,294.7 384.1,293.1 385.1,291.6 386.5,289.4 389,285.5 391.6,281.7 394.2,278.2 396.7,274.8 399.3,271.6 401.8,268.5 404.4,265.7 406.9,262.9 409.5,260.4 412,257.9 414.6,255.6 417.1,253.4 419.7,251.4 422.3,249.5 424.8,247.6 427.4,245.9 429.9,244.3 432.5,242.8 435,241.3 437.6,240 440.1,238.7 442.7,237.5 445.3,236.4 447.8,235.3 450.4,234.3 452.9,233.3 455.5,232.5 458,231.6 460.6,230.9 463.1,230.1 465.7,229.4 468.2,228.8 470.8,228.2 473.4,227.6 475.9,227.1 478.5,226.6 481,226.2 483.6,225.8 486.1,225.4 488.7,225 491.2,224.7 493.8,224.3 496.4,224.1 498.9,223.8 501.5,223.5 504,223.3 506.6,223.1 509.1,222.9 511.7,222.7" fill="none" stroke="#2e2a7a" stroke-width="1.9" stroke-linejoin="round" stroke-dasharray="3.6 2" />
<polyline points="300.7,375.3 301.6,375.3 302.5,375.3 303.5,375.3 304.4,375.3 305.4,375.3 306.3,375.3 307.2,375.3 308.2,375.3 309.1,375.3 310,375.3 311,375.3 311.9,375.3 312.8,375.3 313.8,375.3 314.7,375.3 315.6,375.3 316.6,375.3 317.5,375.3 318.5,375.3 319.4,375.3 320.3,375.3 321.3,375.2 322.2,375.2 323.1,375.1 324.1,375.1 325,375 325.9,374.9 326.9,374.7 327.8,374.6 328.7,374.4 329.7,374.1 330.6,373.8 331.6,373.5 332.5,373.1 333.4,372.7 334.4,372.2 335.3,371.6 336.2,371 337.2,370.3 338.1,369.6 339,368.7 340,367.9 340.9,366.9 341.8,365.9 342.8,364.8 343.7,363.7 344.7,362.5 345.6,361.3 346.6,359.9 347.5,358.6 348.5,357.2 349.4,355.7 350.4,354.2 351.3,352.6 352.2,351 353.2,349.4 354.1,347.7 355.1,346 356,344.2 357,342.5 357.9,340.7 358.9,338.9 359.8,337.1 360.7,335.3 361.7,333.4 362.6,331.6 363.6,329.7 364.5,327.9 365.5,326 366.4,324.2 367.4,322.3 368.3,320.5 369.3,318.6 370.2,316.8 371.1,315 372.1,313.2 373,311.4 374,309.7 374.9,307.9 375.9,306.2 376.8,304.5 377.8,302.8 378.7,301.1 379.7,299.5 380.6,297.9 381.5,296.3 382.5,294.7 383.4,293.1 384.4,291.6 385.8,289.4 388.3,285.5 390.9,281.7 393.4,278.2 396,274.8 398.6,271.6 401.1,268.5 403.7,265.7 406.2,262.9 408.8,260.4 411.3,257.9 413.9,255.6 416.4,253.4 419,251.4 421.6,249.5 424.1,247.6 426.7,245.9 429.2,244.3 431.8,242.8 434.3,241.3 436.9,240 439.4,238.7 442,237.5 444.5,236.4 447.1,235.3 449.7,234.3 452.2,233.3 454.8,232.5 457.3,231.6 459.9,230.9 462.4,230.1 465,229.4 467.5,228.8 470.1,228.2 472.7,227.6 475.2,227.1 477.8,226.6 480.3,226.2 482.9,225.8 485.4,225.4 488,225 490.5,224.7 493.1,224.3 495.6,224.1 498.2,223.8 500.8,223.5 503.3,223.3 505.9,223.1 508.4,222.9 511,222.7" fill="none" stroke="#1e90ff" stroke-width="1.9" stroke-linejoin="round" stroke-dasharray="3.6 2" />
<polyline points="300.7,375.3 301.6,375.3 302.6,375.3 303.5,375.3 304.5,375.3 305.4,375.3 306.4,375.3 307.3,375.3 308.2,375.3 309.2,375.3 310.1,375.3 311.1,375.3 312,375.3 313,375.3 313.9,375.3 314.9,375.3 315.8,375.3 316.7,375.3 317.7,375.3 318.6,375.3 319.6,375.3 320.5,375.3 321.5,375.2 322.4,375.2 323.4,375.1 324.3,375.1 325.3,375 326.2,374.9 327.1,374.7 328.1,374.6 329,374.4 330,374.1 330.9,373.8 331.9,373.5 332.8,373.1 333.8,372.7 334.7,372.2 335.7,371.6 336.6,371 337.5,370.3 338.5,369.6 339.4,368.7 340.4,367.9 341.3,366.9 342.3,365.9 343.2,364.8 344.2,363.7 345.1,362.5 346,361.3 347,359.9 347.9,358.6 348.9,357.2 349.8,355.7 350.8,354.2 351.7,352.6 352.7,351 353.6,349.4 354.6,347.7 355.5,346 356.4,344.2 357.4,342.5 358.3,340.7 359.3,338.9 360.2,337.1 361.2,335.3 362.1,333.4 363.1,331.6 364,329.7 365,327.9 365.9,326 366.8,324.2 367.8,322.3 368.7,320.5 369.7,318.6 370.6,316.8 371.6,315 372.5,313.2 373.5,311.4 374.4,309.7 375.3,307.9 376.3,306.2 377.2,304.5 378.2,302.8 379.1,301.1 380.1,299.5 381,297.9 382,296.3 382.9,294.7 383.9,293.1 384.8,291.6 386.2,289.4 388.8,285.5 391.3,281.7 393.9,278.2 396.4,274.8 399,271.6 401.5,268.5 404.1,265.7 406.6,262.9 409.2,260.4 411.8,257.9 414.3,255.6 416.9,253.4 419.4,251.4 422,249.5 424.5,247.6 427.1,245.9 429.6,244.3 432.2,242.8 434.8,241.3 437.3,240 439.9,238.7 442.4,237.5 445,236.4 447.5,235.3 450.1,234.3 452.6,233.3 455.2,232.5 457.7,231.6 460.3,230.9 462.9,230.1 465.4,229.4 468,228.8 470.5,228.2 473.1,227.6 475.6,227.1 478.2,226.6 480.7,226.2 483.3,225.8 485.9,225.4 488.4,225 491,224.7 493.5,224.3 496.1,224.1 498.6,223.8 501.2,223.5 503.7,223.3 506.3,223.1 508.8,222.9 511.4,222.7" fill="none" stroke="#0000cd" stroke-width="1.9" stroke-linejoin="round" stroke-dasharray="3.6 2" />
<polyline points="301,375.3 301.9,375.3 302.9,375.3 303.8,375.3 304.7,375.3 305.7,375.3 306.6,375.2 307.6,375.1 308.5,375 309.5,374.7 310.4,374.4 311.4,373.9 312.3,373.3 313.2,372.6 314.2,371.8 315.1,370.8 316.1,369.7 317,368.4 318,367 318.9,365.5 319.9,363.9 320.8,362.2 321.8,360.4 322.7,358.6 323.6,356.6 324.6,354.6 325.5,352.6 326.5,350.4 327.4,348.3 328.4,346.1 329.3,343.9 330.3,341.6 331.2,339.4 332.2,337.1 333.1,334.8 334,332.5 335,330.2 335.9,328 336.9,325.7 337.8,323.4 338.8,321.2 339.7,319 340.7,316.8 341.6,314.6 342.5,312.4 343.5,310.3 344.4,308.2 345.4,306.1 346.3,304 347.3,302 348.2,300 349.2,298 350.1,296.1 351.1,294.2 352,292.3 352.9,290.5 353.9,288.6 354.8,286.9 355.8,285.1 356.7,283.4 357.7,281.7 358.6,280.1 359.6,278.4 360.5,276.9 361.5,275.3 362.4,273.8 363.3,272.3 364.3,270.8 365.2,269.4 366.2,268 367.1,266.6 368.1,265.3 369,264 370,262.7 370.9,261.4 371.8,260.2 372.8,259 373.7,257.9 374.7,256.7 375.6,255.6 376.6,254.5 377.5,253.5 378.5,252.4 379.4,251.4 380.4,250.5 381.3,249.5 382.2,248.6 383.2,247.7 384.1,246.8 385.1,245.9 386.5,244.7 389,242.5 391.6,240.6 394.2,238.7 396.7,237.1 399.3,235.5 401.8,234.1 404.4,232.8 406.9,231.6 409.5,230.5 412,229.5 414.6,228.6 417.1,227.7 419.7,227 422.3,226.3 424.8,225.7 427.4,225.2 429.9,224.7 432.5,224.2 435,223.8 437.6,223.5 440.1,223.2 442.7,222.9 445.3,222.7 447.8,222.5 450.4,222.3 452.9,222.1 455.5,222 458,221.9 460.6,221.8 463.1,221.7 465.7,221.6 468.2,221.5 470.8,221.5 473.4,221.4 475.9,221.4 478.5,221.4 481,221.3 483.6,221.3 486.1,221.3 488.7,221.3 491.2,221.3 493.8,221.3 496.4,221.2 498.9,221.2 501.5,221.2 504,221.2 506.6,221.2 509.1,221.2 511.7,221.2" fill="none" stroke="#ffb6c1" stroke-width="1.6" stroke-linejoin="round" />
<polyline points="301,375.3 301.9,375.3 302.9,375.3 303.8,375.3 304.7,375.3 305.7,375.3 306.6,375.2 307.6,375.1 308.5,375 309.5,374.7 310.4,374.4 311.4,373.9 312.3,373.3 313.2,372.6 314.2,371.8 315.1,370.8 316.1,369.7 317,368.4 318,367 318.9,365.5 319.9,363.9 320.8,362.2 321.8,360.4 322.7,358.6 323.6,356.6 324.6,354.6 325.5,352.6 326.5,350.4 327.4,348.3 328.4,346.1 329.3,343.9 330.3,341.6 331.2,339.4 332.2,337.1 333.1,334.8 334,332.5 335,330.2 335.9,328 336.9,325.7 337.8,323.4 338.8,321.2 339.7,319 340.7,316.8 341.6,314.6 342.5,312.4 343.5,310.3 344.4,308.2 345.4,306.1 346.3,304 347.3,302 348.2,300 349.2,298 350.1,296.1 351.1,294.2 352,292.3 352.9,290.5 353.9,288.6 354.8,286.9 355.8,285.1 356.7,283.4 357.7,281.7 358.6,280.1 359.6,278.4 360.5,276.9 361.5,275.3 362.4,273.8 363.3,272.3 364.3,270.8 365.2,269.4 366.2,268 367.1,266.6 368.1,265.3 369,264 370,262.7 370.9,261.4 371.8,260.2 372.8,259 373.7,257.9 374.7,256.7 375.6,255.6 376.6,254.5 377.5,253.5 378.5,252.4 379.4,251.4 380.4,250.5 381.3,249.5 382.2,248.6 383.2,247.7 384.1,246.8 385.1,245.9 386.5,244.7 389,242.5 391.6,240.6 394.2,238.7 396.7,237.1 399.3,235.5 401.8,234.1 404.4,232.8 406.9,231.6 409.5,230.5 412,229.5 414.6,228.6 417.1,227.7 419.7,227 422.3,226.3 424.8,225.7 427.4,225.2 429.9,224.7 432.5,224.2 435,223.8 437.6,223.5 440.1,223.2 442.7,222.9 445.3,222.7 447.8,222.5 450.4,222.3 452.9,222.1 455.5,222 458,221.9 460.6,221.8 463.1,221.7 465.7,221.6 468.2,221.5 470.8,221.5 473.4,221.4 475.9,221.4 478.5,221.4 481,221.3 483.6,221.3 486.1,221.3 488.7,221.3 491.2,221.3 493.8,221.3 496.4,221.2 498.9,221.2 501.5,221.2 504,221.2 506.6,221.2 509.1,221.2 511.7,221.2" fill="none" stroke="#ee55a0" stroke-width="1.6" stroke-linejoin="round" />
<polyline points="301,375.3 301.9,375.3 302.9,375.3 303.8,375.3 304.7,375.3 305.7,375.3 306.6,375.2 307.6,375.1 308.5,375 309.5,374.7 310.4,374.4 311.4,373.9 312.3,373.3 313.2,372.6 314.2,371.8 315.1,370.8 316.1,369.7 317,368.4 318,367 318.9,365.5 319.9,363.9 320.8,362.2 321.8,360.4 322.7,358.6 323.6,356.6 324.6,354.6 325.5,352.6 326.5,350.4 327.4,348.3 328.4,346.1 329.3,343.9 330.3,341.6 331.2,339.4 332.2,337.1 333.1,334.8 334,332.5 335,330.2 335.9,328 336.9,325.7 337.8,323.4 338.8,321.2 339.7,319 340.7,316.8 341.6,314.6 342.5,312.4 343.5,310.3 344.4,308.2 345.4,306.1 346.3,304 347.3,302 348.2,300 349.2,298 350.1,296.1 351.1,294.2 352,292.3 352.9,290.5 353.9,288.6 354.8,286.9 355.8,285.1 356.7,283.4 357.7,281.7 358.6,280.1 359.6,278.4 360.5,276.9 361.5,275.3 362.4,273.8 363.3,272.3 364.3,270.8 365.2,269.4 366.2,268 367.1,266.6 368.1,265.3 369,264 370,262.7 370.9,261.4 371.8,260.2 372.8,259 373.7,257.9 374.7,256.7 375.6,255.6 376.6,254.5 377.5,253.5 378.5,252.4 379.4,251.4 380.4,250.5 381.3,249.5 382.2,248.6 383.2,247.7 384.1,246.8 385.1,245.9 386.5,244.7 389,242.5 391.6,240.6 394.2,238.7 396.7,237.1 399.3,235.5 401.8,234.1 404.4,232.8 406.9,231.6 409.5,230.5 412,229.5 414.6,228.6 417.1,227.7 419.7,227 422.3,226.3 424.8,225.7 427.4,225.2 429.9,224.7 432.5,224.2 435,223.8 437.6,223.5 440.1,223.2 442.7,222.9 445.3,222.7 447.8,222.5 450.4,222.3 452.9,222.1 455.5,222 458,221.9 460.6,221.8 463.1,221.7 465.7,221.6 468.2,221.5 470.8,221.5 473.4,221.4 475.9,221.4 478.5,221.4 481,221.3 483.6,221.3 486.1,221.3 488.7,221.3 491.2,221.3 493.8,221.3 496.4,221.2 498.9,221.2 501.5,221.2 504,221.2 506.6,221.2 509.1,221.2 511.7,221.2" fill="none" stroke="#b01020" stroke-width="1.6" stroke-linejoin="round" />
<polyline points="301,375.3 301.9,375.3 302.9,375.3 303.8,375.3 304.7,375.3 305.7,375.3 306.6,375.2 307.6,375.1 308.5,375 309.5,374.7 310.4,374.4 311.4,373.9 312.3,373.3 313.2,372.6 314.2,371.8 315.1,370.8 316.1,369.7 317,368.4 318,367 318.9,365.5 319.9,363.9 320.8,362.2 321.8,360.4 322.7,358.6 323.6,356.6 324.6,354.6 325.5,352.6 326.5,350.4 327.4,348.3 328.4,346.1 329.3,343.9 330.3,341.6 331.2,339.4 332.2,337.1 333.1,334.8 334,332.5 335,330.2 335.9,328 336.9,325.7 337.8,323.4 338.8,321.2 339.7,319 340.7,316.8 341.6,314.6 342.5,312.4 343.5,310.3 344.4,308.2 345.4,306.1 346.3,304 347.3,302 348.2,300 349.2,298 350.1,296.1 351.1,294.2 352,292.3 352.9,290.5 353.9,288.6 354.8,286.9 355.8,285.1 356.7,283.4 357.7,281.7 358.6,280.1 359.6,278.4 360.5,276.9 361.5,275.3 362.4,273.8 363.3,272.3 364.3,270.8 365.2,269.4 366.2,268 367.1,266.6 368.1,265.3 369,264 370,262.7 370.9,261.4 371.8,260.2 372.8,259 373.7,257.9 374.7,256.7 375.6,255.6 376.6,254.5 377.5,253.5 378.5,252.4 379.4,251.4 380.4,250.5 381.3,249.5 382.2,248.6 383.2,247.7 384.1,246.8 385.1,245.9 386.5,244.7 389,242.5 391.6,240.6 394.2,238.7 396.7,237.1 399.3,235.5 401.8,234.1 404.4,232.8 406.9,231.6 409.5,230.5 412,229.5 414.6,228.6 417.1,227.7 419.7,227 422.3,226.3 424.8,225.7 427.4,225.2 429.9,224.7 432.5,224.2 435,223.8 437.6,223.5 440.1,223.2 442.7,222.9 445.3,222.7 447.8,222.5 450.4,222.3 452.9,222.1 455.5,222 458,221.9 460.6,221.8 463.1,221.7 465.7,221.6 468.2,221.5 470.8,221.5 473.4,221.4 475.9,221.4 478.5,221.4 481,221.3 483.6,221.3 486.1,221.3 488.7,221.3 491.2,221.3 493.8,221.3 496.4,221.2 498.9,221.2 501.5,221.2 504,221.2 506.6,221.2 509.1,221.2 511.7,221.2" fill="none" stroke="#e8202a" stroke-width="1.6" stroke-linejoin="round" />
<polyline points="301,375.3 301.9,375.3 302.9,375.3 303.8,375.3 304.7,375.3 305.7,375.3 306.6,375.2 307.6,375.1 308.5,375 309.5,374.7 310.4,374.4 311.4,373.9 312.3,373.3 313.2,372.6 314.2,371.8 315.1,370.8 316.1,369.7 317,368.4 318,367 318.9,365.5 319.9,363.9 320.8,362.2 321.8,360.4 322.7,358.6 323.6,356.6 324.6,354.6 325.5,352.6 326.5,350.4 327.4,348.3 328.4,346.1 329.3,343.9 330.3,341.6 331.2,339.4 332.2,337.1 333.1,334.8 334,332.5 335,330.2 335.9,328 336.9,325.7 337.8,323.4 338.8,321.2 339.7,319 340.7,316.8 341.6,314.6 342.5,312.4 343.5,310.3 344.4,308.2 345.4,306.1 346.3,304 347.3,302 348.2,300 349.2,298 350.1,296.1 351.1,294.2 352,292.3 352.9,290.5 353.9,288.6 354.8,286.9 355.8,285.1 356.7,283.4 357.7,281.7 358.6,280.1 359.6,278.4 360.5,276.9 361.5,275.3 362.4,273.8 363.3,272.3 364.3,270.8 365.2,269.4 366.2,268 367.1,266.6 368.1,265.3 369,264 370,262.7 370.9,261.4 371.8,260.2 372.8,259 373.7,257.9 374.7,256.7 375.6,255.6 376.6,254.5 377.5,253.5 378.5,252.4 379.4,251.4 380.4,250.5 381.3,249.5 382.2,248.6 383.2,247.7 384.1,246.8 385.1,245.9 386.5,244.7 389,242.5 391.6,240.6 394.2,238.7 396.7,237.1 399.3,235.5 401.8,234.1 404.4,232.8 406.9,231.6 409.5,230.5 412,229.5 414.6,228.6 417.1,227.7 419.7,227 422.3,226.3 424.8,225.7 427.4,225.2 429.9,224.7 432.5,224.2 435,223.8 437.6,223.5 440.1,223.2 442.7,222.9 445.3,222.7 447.8,222.5 450.4,222.3 452.9,222.1 455.5,222 458,221.9 460.6,221.8 463.1,221.7 465.7,221.6 468.2,221.5 470.8,221.5 473.4,221.4 475.9,221.4 478.5,221.4 481,221.3 483.6,221.3 486.1,221.3 488.7,221.3 491.2,221.3 493.8,221.3 496.4,221.2 498.9,221.2 501.5,221.2 504,221.2 506.6,221.2 509.1,221.2 511.7,221.2" fill="none" stroke="#9932cc" stroke-width="1.6" stroke-linejoin="round" />
<polyline points="301,375.3 301.9,375.3 302.9,375.3 303.8,375.3 304.7,375.3 305.7,375.3 306.6,375.2 307.6,375.1 308.5,375 309.5,374.7 310.4,374.4 311.4,373.9 312.3,373.3 313.2,372.6 314.2,371.8 315.1,370.8 316.1,369.7 317,368.4 318,367 318.9,365.5 319.9,363.9 320.8,362.2 321.8,360.4 322.7,358.6 323.6,356.6 324.6,354.6 325.5,352.6 326.5,350.4 327.4,348.3 328.4,346.1 329.3,343.9 330.3,341.6 331.2,339.4 332.2,337.1 333.1,334.8 334,332.5 335,330.2 335.9,328 336.9,325.7 337.8,323.4 338.8,321.2 339.7,319 340.7,316.8 341.6,314.6 342.5,312.4 343.5,310.3 344.4,308.2 345.4,306.1 346.3,304 347.3,302 348.2,300 349.2,298 350.1,296.1 351.1,294.2 352,292.3 352.9,290.5 353.9,288.6 354.8,286.9 355.8,285.1 356.7,283.4 357.7,281.7 358.6,280.1 359.6,278.4 360.5,276.9 361.5,275.3 362.4,273.8 363.3,272.3 364.3,270.8 365.2,269.4 366.2,268 367.1,266.6 368.1,265.3 369,264 370,262.7 370.9,261.4 371.8,260.2 372.8,259 373.7,257.9 374.7,256.7 375.6,255.6 376.6,254.5 377.5,253.5 378.5,252.4 379.4,251.4 380.4,250.5 381.3,249.5 382.2,248.6 383.2,247.7 384.1,246.8 385.1,245.9 386.5,244.7 389,242.5 391.6,240.6 394.2,238.7 396.7,237.1 399.3,235.5 401.8,234.1 404.4,232.8 406.9,231.6 409.5,230.5 412,229.5 414.6,228.6 417.1,227.7 419.7,227 422.3,226.3 424.8,225.7 427.4,225.2 429.9,224.7 432.5,224.2 435,223.8 437.6,223.5 440.1,223.2 442.7,222.9 445.3,222.7 447.8,222.5 450.4,222.3 452.9,222.1 455.5,222 458,221.9 460.6,221.8 463.1,221.7 465.7,221.6 468.2,221.5 470.8,221.5 473.4,221.4 475.9,221.4 478.5,221.4 481,221.3 483.6,221.3 486.1,221.3 488.7,221.3 491.2,221.3 493.8,221.3 496.4,221.2 498.9,221.2 501.5,221.2 504,221.2 506.6,221.2 509.1,221.2 511.7,221.2" fill="none" stroke="#2e2a7a" stroke-width="1.6" stroke-linejoin="round" />
<polyline points="301,375.3 301.9,375.3 302.9,375.3 303.8,375.3 304.7,375.3 305.7,375.3 306.6,375.2 307.6,375.1 308.5,375 309.5,374.7 310.4,374.4 311.4,373.9 312.3,373.3 313.2,372.6 314.2,371.8 315.1,370.8 316.1,369.7 317,368.4 318,367 318.9,365.5 319.9,363.9 320.8,362.2 321.8,360.4 322.7,358.6 323.6,356.6 324.6,354.6 325.5,352.6 326.5,350.4 327.4,348.3 328.4,346.1 329.3,343.9 330.3,341.6 331.2,339.4 332.2,337.1 333.1,334.8 334,332.5 335,330.2 335.9,328 336.9,325.7 337.8,323.4 338.8,321.2 339.7,319 340.7,316.8 341.6,314.6 342.5,312.4 343.5,310.3 344.4,308.2 345.4,306.1 346.3,304 347.3,302 348.2,300 349.2,298 350.1,296.1 351.1,294.2 352,292.3 352.9,290.5 353.9,288.6 354.8,286.9 355.8,285.1 356.7,283.4 357.7,281.7 358.6,280.1 359.6,278.4 360.5,276.9 361.5,275.3 362.4,273.8 363.3,272.3 364.3,270.8 365.2,269.4 366.2,268 367.1,266.6 368.1,265.3 369,264 370,262.7 370.9,261.4 371.8,260.2 372.8,259 373.7,257.9 374.7,256.7 375.6,255.6 376.6,254.5 377.5,253.5 378.5,252.4 379.4,251.4 380.4,250.5 381.3,249.5 382.2,248.6 383.2,247.7 384.1,246.8 385.1,245.9 386.5,244.7 389,242.5 391.6,240.6 394.2,238.7 396.7,237.1 399.3,235.5 401.8,234.1 404.4,232.8 406.9,231.6 409.5,230.5 412,229.5 414.6,228.6 417.1,227.7 419.7,227 422.3,226.3 424.8,225.7 427.4,225.2 429.9,224.7 432.5,224.2 435,223.8 437.6,223.5 440.1,223.2 442.7,222.9 445.3,222.7 447.8,222.5 450.4,222.3 452.9,222.1 455.5,222 458,221.9 460.6,221.8 463.1,221.7 465.7,221.6 468.2,221.5 470.8,221.5 473.4,221.4 475.9,221.4 478.5,221.4 481,221.3 483.6,221.3 486.1,221.3 488.7,221.3 491.2,221.3 493.8,221.3 496.4,221.2 498.9,221.2 501.5,221.2 504,221.2 506.6,221.2 509.1,221.2 511.7,221.2" fill="none" stroke="#1e90ff" stroke-width="1.6" stroke-linejoin="round" />
<polyline points="301,375.3 301.9,375.3 302.9,375.3 303.8,375.3 304.7,375.3 305.7,375.3 306.6,375.2 307.6,375.1 308.5,375 309.5,374.7 310.4,374.4 311.4,373.9 312.3,373.3 313.2,372.6 314.2,371.8 315.1,370.8 316.1,369.7 317,368.4 318,367 318.9,365.5 319.9,363.9 320.8,362.2 321.8,360.4 322.7,358.6 323.6,356.6 324.6,354.6 325.5,352.6 326.5,350.4 327.4,348.3 328.4,346.1 329.3,343.9 330.3,341.6 331.2,339.4 332.2,337.1 333.1,334.8 334,332.5 335,330.2 335.9,328 336.9,325.7 337.8,323.4 338.8,321.2 339.7,319 340.7,316.8 341.6,314.6 342.5,312.4 343.5,310.3 344.4,308.2 345.4,306.1 346.3,304 347.3,302 348.2,300 349.2,298 350.1,296.1 351.1,294.2 352,292.3 352.9,290.5 353.9,288.6 354.8,286.9 355.8,285.1 356.7,283.4 357.7,281.7 358.6,280.1 359.6,278.4 360.5,276.9 361.5,275.3 362.4,273.8 363.3,272.3 364.3,270.8 365.2,269.4 366.2,268 367.1,266.6 368.1,265.3 369,264 370,262.7 370.9,261.4 371.8,260.2 372.8,259 373.7,257.9 374.7,256.7 375.6,255.6 376.6,254.5 377.5,253.5 378.5,252.4 379.4,251.4 380.4,250.5 381.3,249.5 382.2,248.6 383.2,247.7 384.1,246.8 385.1,245.9 386.5,244.7 389,242.5 391.6,240.6 394.2,238.7 396.7,237.1 399.3,235.5 401.8,234.1 404.4,232.8 406.9,231.6 409.5,230.5 412,229.5 414.6,228.6 417.1,227.7 419.7,227 422.3,226.3 424.8,225.7 427.4,225.2 429.9,224.7 432.5,224.2 435,223.8 437.6,223.5 440.1,223.2 442.7,222.9 445.3,222.7 447.8,222.5 450.4,222.3 452.9,222.1 455.5,222 458,221.9 460.6,221.8 463.1,221.7 465.7,221.6 468.2,221.5 470.8,221.5 473.4,221.4 475.9,221.4 478.5,221.4 481,221.3 483.6,221.3 486.1,221.3 488.7,221.3 491.2,221.3 493.8,221.3 496.4,221.2 498.9,221.2 501.5,221.2 504,221.2 506.6,221.2 509.1,221.2 511.7,221.2" fill="none" stroke="#0000cd" stroke-width="1.6" stroke-linejoin="round" />
<polyline points="300.4,375.3 301.3,375.3 302.3,375.3 303.2,375.3 304.2,375.3 305.1,375.3 306.1,375.2 307,375.1 308,375 308.9,374.7 309.9,374.4 310.8,373.9 311.7,373.3 312.7,372.6 313.6,371.8 314.6,370.8 315.5,369.7 316.5,368.4 317.4,367 318.4,365.5 319.3,363.9 320.2,362.2 321.2,360.4 322.1,358.6 323.1,356.6 324,354.6 325,352.6 325.9,350.4 326.9,348.3 327.8,346.1 328.8,343.9 329.7,341.6 330.6,339.4 331.6,337.1 332.5,334.8 333.5,332.5 334.4,330.2 335.4,328 336.3,325.7 337.3,323.4 338.2,321.2 339.2,319 340.1,316.8 341,314.6 342,312.4 342.9,310.3 343.9,308.2 344.8,306.1 345.8,304 346.7,302 347.7,300 348.6,298 349.5,296.1 350.5,294.2 351.4,292.3 352.4,290.5 353.3,288.6 354.3,286.9 355.2,285.1 356.2,283.4 357.1,281.7 358.1,280.1 359,278.4 359.9,276.9 360.9,275.3 361.8,273.8 362.8,272.3 363.7,270.8 364.7,269.4 365.6,268 366.6,266.6 367.5,265.3 368.5,264 369.4,262.7 370.3,261.4 371.3,260.2 372.2,259 373.2,257.9 374.1,256.7 375.1,255.6 376,254.5 377,253.5 377.9,252.4 378.8,251.4 379.8,250.5 380.7,249.5 381.7,248.6 382.6,247.7 383.6,246.8 384.5,245.9 385.9,244.7 388.5,242.5 391,240.6 393.6,238.7 396.1,237.1 398.7,235.5 401.3,234.1 403.8,232.8 406.4,231.6 408.9,230.5 411.5,229.5 414,228.6 416.6,227.7 419.1,227 421.7,226.3 424.2,225.7 426.8,225.2 429.4,224.7 431.9,224.2 434.5,223.8 437,223.5 439.6,223.2 442.1,222.9 444.7,222.7 447.2,222.5 449.8,222.3 452.4,222.1 454.9,222 457.5,221.9 460,221.8 462.6,221.7 465.1,221.6 467.7,221.5 470.2,221.5 472.8,221.4 475.3,221.4 477.9,221.4 480.5,221.3 483,221.3 485.6,221.3 488.1,221.3 490.7,221.3 493.2,221.3 495.8,221.2 498.3,221.2 500.9,221.2 503.5,221.2 506,221.2 508.6,221.2 511.1,221.2" fill="none" stroke="#000" stroke-width="1.5" stroke-linejoin="round" />
</g>
<rect x="300.4" y="205.8" width="211" height="169.5" fill="none" stroke="#8a8a8a" stroke-width="1.3"/>
<line x1="295.9" y1="375.3" x2="300.4" y2="375.3" stroke="#555" stroke-width="1" />
<text transform="translate(291.8 378.5) scale(0.92 1)" font-size="9.0" text-anchor="end" fill="#1a1a1a" >0.0</text>
<line x1="298.1" y1="367.6" x2="300.4" y2="367.6" stroke="#555" stroke-width="1" />
<line x1="298.1" y1="359.9" x2="300.4" y2="359.9" stroke="#555" stroke-width="1" />
<line x1="298.1" y1="352.2" x2="300.4" y2="352.2" stroke="#555" stroke-width="1" />
<line x1="295.9" y1="344.5" x2="300.4" y2="344.5" stroke="#555" stroke-width="1" />
<text transform="translate(291.8 347.7) scale(0.92 1)" font-size="9.0" text-anchor="end" fill="#1a1a1a" >0.2</text>
<line x1="298.1" y1="336.8" x2="300.4" y2="336.8" stroke="#555" stroke-width="1" />
<line x1="298.1" y1="329.1" x2="300.4" y2="329.1" stroke="#555" stroke-width="1" />
<line x1="298.1" y1="321.4" x2="300.4" y2="321.4" stroke="#555" stroke-width="1" />
<line x1="295.9" y1="313.7" x2="300.4" y2="313.7" stroke="#555" stroke-width="1" />
<text transform="translate(291.8 316.9) scale(0.92 1)" font-size="9.0" text-anchor="end" fill="#1a1a1a" >0.4</text>
<line x1="298.1" y1="306" x2="300.4" y2="306" stroke="#555" stroke-width="1" />
<line x1="298.1" y1="298.3" x2="300.4" y2="298.3" stroke="#555" stroke-width="1" />
<line x1="298.1" y1="290.6" x2="300.4" y2="290.6" stroke="#555" stroke-width="1" />
<line x1="295.9" y1="282.8" x2="300.4" y2="282.8" stroke="#555" stroke-width="1" />
<text transform="translate(291.8 286) scale(0.92 1)" font-size="9.0" text-anchor="end" fill="#1a1a1a" >0.6</text>
<line x1="298.1" y1="275.1" x2="300.4" y2="275.1" stroke="#555" stroke-width="1" />
<line x1="298.1" y1="267.4" x2="300.4" y2="267.4" stroke="#555" stroke-width="1" />
<line x1="298.1" y1="259.7" x2="300.4" y2="259.7" stroke="#555" stroke-width="1" />
<line x1="295.9" y1="252" x2="300.4" y2="252" stroke="#555" stroke-width="1" />
<text transform="translate(291.8 255.2) scale(0.92 1)" font-size="9.0" text-anchor="end" fill="#1a1a1a" >0.8</text>
<line x1="298.1" y1="244.3" x2="300.4" y2="244.3" stroke="#555" stroke-width="1" />
<line x1="298.1" y1="236.6" x2="300.4" y2="236.6" stroke="#555" stroke-width="1" />
<line x1="298.1" y1="228.9" x2="300.4" y2="228.9" stroke="#555" stroke-width="1" />
<line x1="295.9" y1="221.2" x2="300.4" y2="221.2" stroke="#555" stroke-width="1" />
<text transform="translate(291.8 224.4) scale(0.92 1)" font-size="9.0" text-anchor="end" fill="#1a1a1a" >1.0</text>
<line x1="298.1" y1="213.5" x2="300.4" y2="213.5" stroke="#555" stroke-width="1" />
<line x1="298.1" y1="205.8" x2="300.4" y2="205.8" stroke="#555" stroke-width="1" />
<line x1="300.4" y1="375.3" x2="300.4" y2="379.8" stroke="#555" stroke-width="1" />
<text transform="translate(300.4 392.8) scale(0.92 1)" font-size="9.0" text-anchor="middle" fill="#1a1a1a" >0</text>
<line x1="314.5" y1="375.3" x2="314.5" y2="377.6" stroke="#555" stroke-width="1" />
<line x1="328.5" y1="375.3" x2="328.5" y2="377.6" stroke="#555" stroke-width="1" />
<line x1="342.6" y1="375.3" x2="342.6" y2="379.8" stroke="#555" stroke-width="1" />
<text transform="translate(342.6 392.8) scale(0.92 1)" font-size="9.0" text-anchor="middle" fill="#1a1a1a" >3</text>
<line x1="356.7" y1="375.3" x2="356.7" y2="377.6" stroke="#555" stroke-width="1" />
<line x1="370.7" y1="375.3" x2="370.7" y2="377.6" stroke="#555" stroke-width="1" />
<line x1="384.8" y1="375.3" x2="384.8" y2="379.8" stroke="#555" stroke-width="1" />
<text transform="translate(384.8 392.8) scale(0.92 1)" font-size="9.0" text-anchor="middle" fill="#1a1a1a" >6</text>
<line x1="398.9" y1="375.3" x2="398.9" y2="377.6" stroke="#555" stroke-width="1" />
<line x1="412.9" y1="375.3" x2="412.9" y2="377.6" stroke="#555" stroke-width="1" />
<line x1="427" y1="375.3" x2="427" y2="379.8" stroke="#555" stroke-width="1" />
<text transform="translate(427 392.8) scale(0.92 1)" font-size="9.0" text-anchor="middle" fill="#1a1a1a" >9</text>
<line x1="441.1" y1="375.3" x2="441.1" y2="377.6" stroke="#555" stroke-width="1" />
<line x1="455.1" y1="375.3" x2="455.1" y2="377.6" stroke="#555" stroke-width="1" />
<line x1="469.2" y1="375.3" x2="469.2" y2="379.8" stroke="#555" stroke-width="1" />
<text transform="translate(469.2 392.8) scale(0.92 1)" font-size="9.0" text-anchor="middle" fill="#1a1a1a" >12</text>
<line x1="483.3" y1="375.3" x2="483.3" y2="377.6" stroke="#555" stroke-width="1" />
<line x1="497.3" y1="375.3" x2="497.3" y2="377.6" stroke="#555" stroke-width="1" />
<line x1="511.4" y1="375.3" x2="511.4" y2="379.8" stroke="#555" stroke-width="1" />
<text transform="translate(511.4 392.8) scale(0.92 1)" font-size="9.0" text-anchor="middle" fill="#1a1a1a" >15</text>
<text x="299.4" y="202" font-size="11.4" text-anchor="start" fill="#1a1a1a" textLength="41.0" lengthAdjust="spacingAndGlyphs" >(d) CDF</text>
<text x="405.9" y="407.6" font-size="11.2" text-anchor="middle" fill="#1a1a1a" textLength="83.5" lengthAdjust="spacingAndGlyphs" >wind speed (m/s)</text>
<text x="270.6" y="289.8" font-size="11.2" text-anchor="middle" fill="#1a1a1a" transform="rotate(-90 270.6 289.8)" textLength="40.5" lengthAdjust="spacingAndGlyphs" >CDF (%)</text>
<polyline points="169,654.1 169,651.9 168.9,649.7 168.8,647.5 168.7,645.3 168.5,643.2 168.3,641 168,638.8 167.7,636.6 167.4,634.5 167,632.3 166.6,630.1 166.2,628 165.7,625.9 165.2,623.7 164.6,621.6 164,619.5 163.3,617.4 162.7,615.3 161.9,613.2 161.2,611.2 160.4,609.1 159.6,607.1 158.7,605.1 157.8,603 156.9,601.1 155.9,599.1 154.9,597.1 153.9,595.2 152.8,593.3 151.7,591.4 150.5,589.5 149.3,587.6 148.1,585.8 146.9,584 145.6,582.2 144.3,580.4 143,578.6 141.6,576.9 140.2,575.2 138.7,573.5 137.3,571.9 135.8,570.2 134.3,568.6 132.7,567.1 131.1,565.5 129.5,564 127.9,562.5 126.2,561 124.5,559.6 122.8,558.2 121.1,556.8 119.3,555.5 117.5,554.1 115.7,552.9 113.9,551.6 112,550.4 110.2,549.2 108.3,548 106.3,546.9 104.4,545.8 102.4,544.8 100.5,543.7 98.5,542.7 96.5,541.8 94.4,540.9 92.4,540 90.3,539.1 88.3,538.3 86.2,537.6 84.1,536.8 81.9,536.1 79.8,535.4 77.7,534.8 75.5,534.2 73.4,533.7 71.2,533.2 69,532.7 66.8,532.2 64.6,531.8 62.4,531.5 60.2,531.1 58,530.8 55.8,530.6 53.6,530.4 51.3,530.2 49.1,530.1 46.9,530 44.6,529.9 42.4,529.9" fill="none" stroke="#777" stroke-width="1" stroke-linejoin="round" stroke-dasharray="4.5 3" />
<polyline points="232.3,654.1 232.3,650.8 232.2,647.5 232,644.2 231.8,641 231.6,637.7 231.2,634.4 230.9,631.1 230.4,627.9 229.9,624.6 229.3,621.4 228.7,618.2 228.1,614.9 227.3,611.7 226.5,608.5 225.7,605.4 224.8,602.2 223.8,599 222.8,595.9 221.7,592.8 220.6,589.7 219.4,586.6 218.2,583.6 216.9,580.5 215.5,577.5 214.1,574.5 212.7,571.6 211.1,568.6 209.6,565.7 208,562.9 206.3,560 204.6,557.2 202.8,554.4 201,551.6 199.1,548.9 197.2,546.2 195.2,543.5 193.2,540.9 191.2,538.3 189.1,535.8 186.9,533.2 184.7,530.7 182.5,528.3 180.2,525.9 177.9,523.5 175.5,521.2 173.1,518.9 170.6,516.7 168.1,514.5 165.6,512.3 163,510.2 160.4,508.2 157.8,506.1 155.1,504.2 152.4,502.2 149.6,500.3 146.9,498.5 144,496.7 141.2,495 138.3,493.3 135.4,491.7 132.5,490.1 129.5,488.6 126.5,487.1 123.5,485.6 120.5,484.3 117.4,482.9 114.3,481.7 111.2,480.5 108,479.3 104.9,478.2 101.7,477.1 98.5,476.1 95.3,475.2 92.1,474.3 88.8,473.5 85.6,472.7 82.3,472 79,471.3 75.7,470.7 72.4,470.1 69.1,469.7 65.8,469.2 62.5,468.8 59.1,468.5 55.8,468.3 52.5,468.1 49.1,467.9 45.8,467.8 42.4,467.8" fill="none" stroke="#777" stroke-width="1" stroke-linejoin="round" stroke-dasharray="4.5 3" />
<polyline points="105.7,654.1 105.7,653 105.7,651.9 105.6,650.8 105.5,649.7 105.5,648.6 105.3,647.5 105.2,646.4 105.1,645.4 104.9,644.3 104.7,643.2 104.5,642.1 104.3,641 104,640 103.8,638.9 103.5,637.9 103.2,636.8 102.9,635.7 102.5,634.7 102.2,633.7 101.8,632.6 101.4,631.6 101,630.6 100.6,629.6 100.1,628.6 99.6,627.6 99.2,626.6 98.6,625.6 98.1,624.6 97.6,623.7 97,622.7 96.5,621.8 95.9,620.9 95.3,619.9 94.6,619 94,618.1 93.3,617.2 92.7,616.4 92,615.5 91.3,614.7 90.6,613.8 89.8,613 89.1,612.2 88.3,611.4 87.6,610.6 86.8,609.8 86,609 85.1,608.3 84.3,607.6 83.5,606.8 82.6,606.1 81.7,605.5 80.9,604.8 80,604.1 79.1,603.5 78.1,602.8 77.2,602.2 76.3,601.6 75.3,601.1 74.4,600.5 73.4,600 72.4,599.4 71.4,598.9 70.4,598.4 69.4,597.9 68.4,597.5 67.4,597 66.4,596.6 65.3,596.2 64.3,595.8 63.2,595.5 62.2,595.1 61.1,594.8 60,594.5 59,594.2 57.9,593.9 56.8,593.6 55.7,593.4 54.6,593.2 53.5,593 52.4,592.8 51.3,592.6 50.2,592.5 49.1,592.3 48,592.2 46.9,592.2 45.8,592.1 44.6,592 43.5,592 42.4,592" fill="none" stroke="#222" stroke-width="1.6" stroke-linejoin="round" stroke-dasharray="5 3" />
<line x1="42.4" y1="654.1" x2="167.7" y2="490.2" stroke="#888" stroke-width="1" stroke-dasharray="1.2 2"/>
<line x1="42.4" y1="654.1" x2="230.4" y2="564.8" stroke="#888" stroke-width="1" stroke-dasharray="1.2 2"/>
<line x1="42.4" y1="654.1" x2="42.4" y2="449.2" stroke="#666" stroke-width="1.2" />
<line x1="42.4" y1="654.1" x2="251.3" y2="654.1" stroke="#666" stroke-width="1.2" />
<polyline points="251.3,654.1 251.3,652.5 251.3,650.9 251.2,649.2 251.2,647.6 251.1,646 251.1,644.4 251,642.8 250.9,641.2 250.8,639.6 250.6,637.9 250.5,636.3 250.4,634.7 250.2,633.1 250,631.5 249.8,629.9 249.6,628.3 249.4,626.7 249.2,625.1 248.9,623.5 248.7,621.9 248.4,620.3 248.1,618.7 247.9,617.1 247.6,615.5 247.2,613.9 246.9,612.3 246.6,610.8 246.2,609.2 245.8,607.6 245.5,606 245.1,604.5 244.7,602.9 244.2,601.3 243.8,599.8 243.4,598.2 242.9,596.6 242.4,595.1 242,593.5 241.5,592 241,590.5 240.4,588.9 239.9,587.4 239.4,585.9 238.8,584.3 238.3,582.8 237.7,581.3 237.1,579.8 236.5,578.3 235.9,576.8 235.2,575.3 234.6,573.8 233.9,572.3 233.3,570.8 232.6,569.4 231.9,567.9 231.2,566.4 230.5,565 229.8,563.5 229,562.1 228.3,560.6 227.5,559.2 226.8,557.8 226,556.3 225.2,554.9 224.4,553.5 223.6,552.1 222.8,550.7 221.9,549.3 221.1,547.9 220.2,546.5 219.3,545.2 218.5,543.8 217.6,542.4 216.7,541.1 215.7,539.7 214.8,538.4 213.9,537.1 212.9,535.7 212,534.4 211,533.1 210,531.8 209,530.5 208,529.2 207,528 206,526.7 205,525.4 203.9,524.2 202.9,522.9 201.8,521.7 200.8,520.5 199.7,519.2 198.6,518 197.5,516.8 196.4,515.6 195.3,514.4 194.1,513.3 193,512.1 191.8,510.9 190.7,509.8 189.5,508.6 188.3,507.5 187.2,506.4 186,505.2 184.8,504.1 183.6,503 182.3,502 181.1,500.9 179.9,499.8 178.6,498.7 177.4,497.7 176.1,496.7 174.8,495.6 173.6,494.6 172.3,493.6 171,492.6 169.7,491.6 168.4,490.6 167,489.6 165.7,488.7 164.4,487.7 163,486.8 161.7,485.9 160.3,485 159,484 157.6,483.1 156.2,482.3 154.8,481.4 153.4,480.5 152,479.7 150.6,478.8 149.2,478 147.8,477.2 146.4,476.4 144.9,475.6 143.5,474.8 142,474 140.6,473.2 139.1,472.5 137.7,471.7 136.2,471 134.7,470.3 133.2,469.6 131.8,468.9 130.3,468.2 128.8,467.5 127.3,466.8 125.8,466.2 124.2,465.6 122.7,464.9 121.2,464.3 119.7,463.7 118.1,463.1 116.6,462.5 115,462 113.5,461.4 111.9,460.9 110.4,460.3 108.8,459.8 107.3,459.3 105.7,458.8 104.1,458.3 102.5,457.8 101,457.4 99.4,456.9 97.8,456.5 96.2,456.1 94.6,455.7 93,455.3 91.4,454.9 89.8,454.5 88.2,454.2 86.6,453.8 85,453.5 83.4,453.1 81.7,452.8 80.1,452.5 78.5,452.3 76.9,452 75.2,451.7 73.6,451.5 72,451.2 70.3,451 68.7,450.8 67.1,450.6 65.4,450.4 63.8,450.2 62.2,450.1 60.5,449.9 58.9,449.8 57.2,449.7 55.6,449.6 53.9,449.5 52.3,449.4 50.6,449.3 49,449.3 47.3,449.2 45.7,449.2 44,449.2 42.4,449.2" fill="none" stroke="#222" stroke-width="1.15" stroke-linejoin="round" />
<line x1="42.4" y1="623.1" x2="47.4" y2="623.1" stroke="#444" stroke-width="1" />
<text x="37.4" y="625.9" font-size="7.8" text-anchor="end" fill="#1a1a1a" >0.5</text>
<line x1="42.4" y1="592" x2="47.4" y2="592" stroke="#444" stroke-width="1" />
<text x="37.4" y="594.8" font-size="7.8" text-anchor="end" fill="#1a1a1a" >1.0</text>
<line x1="42.4" y1="561" x2="47.4" y2="561" stroke="#444" stroke-width="1" />
<text x="37.4" y="563.8" font-size="7.8" text-anchor="end" fill="#1a1a1a" >1.5</text>
<line x1="42.4" y1="529.9" x2="47.4" y2="529.9" stroke="#444" stroke-width="1" />
<text x="37.4" y="532.7" font-size="7.8" text-anchor="end" fill="#1a1a1a" >2.0</text>
<line x1="42.4" y1="498.9" x2="47.4" y2="498.9" stroke="#444" stroke-width="1" />
<text x="37.4" y="501.7" font-size="7.8" text-anchor="end" fill="#1a1a1a" >2.5</text>
<line x1="42.4" y1="467.8" x2="47.4" y2="467.8" stroke="#444" stroke-width="1" />
<text x="37.4" y="470.6" font-size="7.8" text-anchor="end" fill="#1a1a1a" >3.0</text>
<text x="37" y="656.9" font-size="7.8" text-anchor="end" fill="#1a1a1a" >0.00</text>
<line x1="74" y1="654.1" x2="74" y2="649.1" stroke="#444" stroke-width="1" />
<text x="74" y="665.6" font-size="7.8" text-anchor="middle" fill="#1a1a1a" >0.5</text>
<line x1="137.3" y1="654.1" x2="137.3" y2="649.1" stroke="#444" stroke-width="1" />
<text x="137.3" y="665.6" font-size="7.8" text-anchor="middle" fill="#1a1a1a" >1.5</text>
<line x1="169" y1="654.1" x2="169" y2="649.1" stroke="#444" stroke-width="1" />
<text x="169" y="665.6" font-size="7.8" text-anchor="middle" fill="#1a1a1a" >2.0</text>
<line x1="200.7" y1="654.1" x2="200.7" y2="649.1" stroke="#444" stroke-width="1" />
<text x="200.7" y="665.6" font-size="7.8" text-anchor="middle" fill="#1a1a1a" >2.5</text>
<line x1="232.3" y1="654.1" x2="232.3" y2="649.1" stroke="#444" stroke-width="1" />
<text x="232.3" y="665.6" font-size="7.8" text-anchor="middle" fill="#1a1a1a" >3.0</text>
<text x="105.7" y="665.6" font-size="7.8" text-anchor="middle" fill="#1a1a1a" >REF</text>
<line x1="42.4" y1="449.2" x2="42.4" y2="454.8" stroke="#222" stroke-width="1" />
<text x="42.4" y="447.9" font-size="7.8" fill="#1a1a1a" transform="rotate(-90.0 42.4 447.9)" dy="2.8">0.0</text>
<line x1="63.3" y1="450.2" x2="62.7" y2="455.8" stroke="#222" stroke-width="1" />
<text x="63.4" y="449" font-size="7.8" fill="#1a1a1a" transform="rotate(-84.3 63.4 449)" dy="2.8">0.1</text>
<line x1="84.2" y1="453.3" x2="83" y2="458.8" stroke="#222" stroke-width="1" />
<text x="84.4" y="452.1" font-size="7.8" fill="#1a1a1a" transform="rotate(-78.5 84.4 452.1)" dy="2.8">0.2</text>
<line x1="105.1" y1="458.6" x2="103.4" y2="463.9" stroke="#222" stroke-width="1" />
<text x="105.4" y="457.4" font-size="7.8" fill="#1a1a1a" transform="rotate(-72.5 105.4 457.4)" dy="2.8">0.3</text>
<line x1="126" y1="466.3" x2="123.7" y2="471.4" stroke="#222" stroke-width="1" />
<text x="126.5" y="465.1" font-size="7.8" fill="#1a1a1a" transform="rotate(-66.4 126.5 465.1)" dy="2.8">0.4</text>
<line x1="146.8" y1="476.6" x2="144" y2="481.5" stroke="#222" stroke-width="1" />
<text x="147.5" y="475.5" font-size="7.8" fill="#1a1a1a" transform="rotate(-60.0 147.5 475.5)" dy="2.8">0.5</text>
<line x1="167.7" y1="490.2" x2="164.3" y2="494.6" stroke="#222" stroke-width="1" />
<text x="168.5" y="489.2" font-size="7.8" fill="#1a1a1a" transform="rotate(-53.1 168.5 489.2)" dy="2.8">0.6</text>
<line x1="188.6" y1="507.8" x2="184.6" y2="511.7" stroke="#222" stroke-width="1" />
<text x="189.5" y="506.9" font-size="7.8" fill="#1a1a1a" transform="rotate(-45.6 189.5 506.9)" dy="2.8">0.7</text>
<line x1="209.5" y1="531.1" x2="205" y2="534.5" stroke="#222" stroke-width="1" />
<text x="210.5" y="530.4" font-size="7.8" fill="#1a1a1a" transform="rotate(-36.9 210.5 530.4)" dy="2.8">0.8</text>
<line x1="230.4" y1="564.8" x2="225.3" y2="567.2" stroke="#222" stroke-width="1" />
<text x="231.5" y="564.2" font-size="7.8" fill="#1a1a1a" transform="rotate(-25.8 231.5 564.2)" dy="2.8">0.9</text>
<line x1="240.8" y1="590.1" x2="235.4" y2="591.9" stroke="#222" stroke-width="1" />
<text x="242" y="589.7" font-size="7.8" fill="#1a1a1a" transform="rotate(-18.2 242 589.7)" dy="2.8">0.95</text>
<line x1="249.2" y1="625.2" x2="243.6" y2="626" stroke="#222" stroke-width="1" />
<text x="250.5" y="625" font-size="7.8" fill="#1a1a1a" transform="rotate(-8.1 250.5 625)" dy="2.8">0.99</text>
<line x1="251.3" y1="654.1" x2="245.6" y2="654.1" stroke="#222" stroke-width="1" />
<text x="252.6" y="654.1" font-size="7.8" fill="#1a1a1a" transform="rotate(-0.0 252.6 654.1)" dy="2.8">1.0</text>
<line x1="52.8" y1="449.4" x2="52.7" y2="452.5" stroke="#222" stroke-width="1" />
<line x1="73.7" y1="451.5" x2="73.3" y2="454.6" stroke="#222" stroke-width="1" />
<line x1="94.6" y1="455.7" x2="93.8" y2="458.7" stroke="#222" stroke-width="1" />
<line x1="115.5" y1="462.1" x2="114.4" y2="465" stroke="#222" stroke-width="1" />
<line x1="136.4" y1="471.1" x2="135" y2="473.9" stroke="#222" stroke-width="1" />
<line x1="157.3" y1="482.9" x2="155.5" y2="485.5" stroke="#222" stroke-width="1" />
<line x1="178.2" y1="498.4" x2="176.1" y2="500.7" stroke="#222" stroke-width="1" />
<line x1="199.1" y1="518.6" x2="196.7" y2="520.6" stroke="#222" stroke-width="1" />
<line x1="220" y1="546.1" x2="217.3" y2="547.8" stroke="#222" stroke-width="1" />
<line x1="232.5" y1="569.1" x2="229.6" y2="570.4" stroke="#222" stroke-width="1" />
<line x1="234.6" y1="573.8" x2="231.7" y2="575" stroke="#222" stroke-width="1" />
<line x1="236.7" y1="578.8" x2="233.7" y2="579.9" stroke="#222" stroke-width="1" />
<line x1="238.8" y1="584.2" x2="235.8" y2="585.2" stroke="#222" stroke-width="1" />
<line x1="242.9" y1="596.7" x2="239.9" y2="597.6" stroke="#222" stroke-width="1" />
<line x1="245" y1="604.3" x2="242" y2="605" stroke="#222" stroke-width="1" />
<line x1="247.1" y1="613.3" x2="244" y2="613.9" stroke="#222" stroke-width="1" />
<text x="204.8" y="494.6" font-size="10.6" text-anchor="middle" fill="#1a1a1a" transform="rotate(45 204.8 494.6)" textLength="51.5" lengthAdjust="spacingAndGlyphs" >Correlation</text>
<text x="14.5" y="548.9" font-size="10" text-anchor="middle" fill="#1a1a1a" transform="rotate(-90 14.5 548.9)" >Standardized Deviations</text>
<text x="44" y="432.3" font-size="12.0" text-anchor="start" fill="#1a1a1a" textLength="51.2" lengthAdjust="spacingAndGlyphs" >(e) taylor</text>
<path d="M143.6,520.1 L141.5,518.9 L140.3,516.8 L139.1,518.9 L137,520.1 L139.1,521.3 L140.3,523.4 L141.5,521.3Z" fill="#ffb6c1" stroke="#ffb6c1" stroke-width="1.6" stroke-linejoin="round"/>
<path d="M167.9,520.9 L165.8,519.7 L164.6,517.6 L163.4,519.7 L161.3,520.9 L163.4,522.1 L164.6,524.2 L165.8,522.1Z" fill="#b01020" stroke="#b01020" stroke-width="1.6" stroke-linejoin="round"/>
<path d="M157.2,521.1 L155.1,519.9 L153.9,517.8 L152.7,519.9 L150.6,521.1 L152.7,522.3 L153.9,524.4 L155.1,522.3Z" fill="#e8202a" stroke="#e8202a" stroke-width="1.6" stroke-linejoin="round"/>
<path d="M149,526.9 L146.9,525.7 L145.7,523.6 L144.5,525.7 L142.4,526.9 L144.5,528.1 L145.7,530.2 L146.9,528.1Z" fill="#ee55a0" stroke="#ee55a0" stroke-width="1.6" stroke-linejoin="round"/>
<path d="M122.8,576.5 L120.7,575.3 L119.5,573.2 L118.3,575.3 L116.2,576.5 L118.3,577.7 L119.5,579.8 L120.7,577.7Z" fill="#9932cc" stroke="#9932cc" stroke-width="1.6" stroke-linejoin="round"/>
<path d="M120.3,580.5 L118.2,579.3 L117,577.2 L115.8,579.3 L113.7,580.5 L115.8,581.7 L117,583.8 L118.2,581.7Z" fill="#1e90ff" stroke="#1e90ff" stroke-width="1.6" stroke-linejoin="round"/>
<path d="M135.7,580.3 L133.6,579.1 L132.4,577 L131.2,579.1 L129.1,580.3 L131.2,581.5 L132.4,583.6 L133.6,581.5Z" fill="#2e2a7a" stroke="#2e2a7a" stroke-width="1.6" stroke-linejoin="round"/>
<path d="M137.6,579 L135.5,577.8 L134.3,575.7 L133.1,577.8 L131,579 L133.1,580.2 L134.3,582.3 L135.5,580.2Z" fill="#0000cd" stroke="#0000cd" stroke-width="1.6" stroke-linejoin="round"/>
<circle cx="78.8" cy="611" r="3.6" fill="#ee55a0"/>
<circle cx="90" cy="614.5" r="3.6" fill="#b01020"/>
<circle cx="87.9" cy="609.8" r="3.6" fill="#e8202a"/>
<circle cx="94.2" cy="620" r="3.6" fill="#ffb6c1"/>
<circle cx="84.1" cy="614.5" r="3.6" fill="#9932cc"/>
<circle cx="97.8" cy="615.6" r="3.6" fill="#2e2a7a"/>
<circle cx="86" cy="614.9" r="3.6" fill="#1e90ff"/>
<circle cx="87.4" cy="616.6" r="3.6" fill="#0000cd"/>
<text x="344" y="504.6" font-size="14.0" text-anchor="middle" fill="#0000cd" textLength="90.4" lengthAdjust="spacingAndGlyphs" >WRF-CNRM-CM5</text>
<text x="463.6" y="504" font-size="14.0" text-anchor="middle" fill="#b01020" textLength="109.8" lengthAdjust="spacingAndGlyphs" >RegCM4-CNRM-CM5</text>
<text x="344" y="532.6" font-size="14.0" text-anchor="middle" fill="#1e90ff" textLength="87.2" lengthAdjust="spacingAndGlyphs" >WRF-EC-EARTH</text>
<text x="464" y="532" font-size="14.0" text-anchor="middle" fill="#e8202a" textLength="105.3" lengthAdjust="spacingAndGlyphs" >RegCM4-EC-EARTH</text>
<text x="344" y="561" font-size="14.0" text-anchor="middle" fill="#2e2a7a" textLength="103.1" lengthAdjust="spacingAndGlyphs" >WRF-GFDL-ESM2M</text>
<text x="464" y="559.8" font-size="14.0" text-anchor="middle" fill="#ffb6c1" textLength="121.4" lengthAdjust="spacingAndGlyphs" >RegCM4-GFDL-ESM2M</text>
<text x="343.8" y="588.8" font-size="14.0" text-anchor="middle" fill="#9932cc" textLength="77.3" lengthAdjust="spacingAndGlyphs" >WRF-MPI-ESM</text>
<text x="463.5" y="587" font-size="14.0" text-anchor="middle" fill="#ee55a0" textLength="95.7" lengthAdjust="spacingAndGlyphs" >RegCM4-MPI-ESM</text>
<text x="343.5" y="616.9" font-size="14.6" text-anchor="middle" fill="#000" textLength="29.5" lengthAdjust="spacingAndGlyphs" >ERA5</text>
</svg>
</body></html>
